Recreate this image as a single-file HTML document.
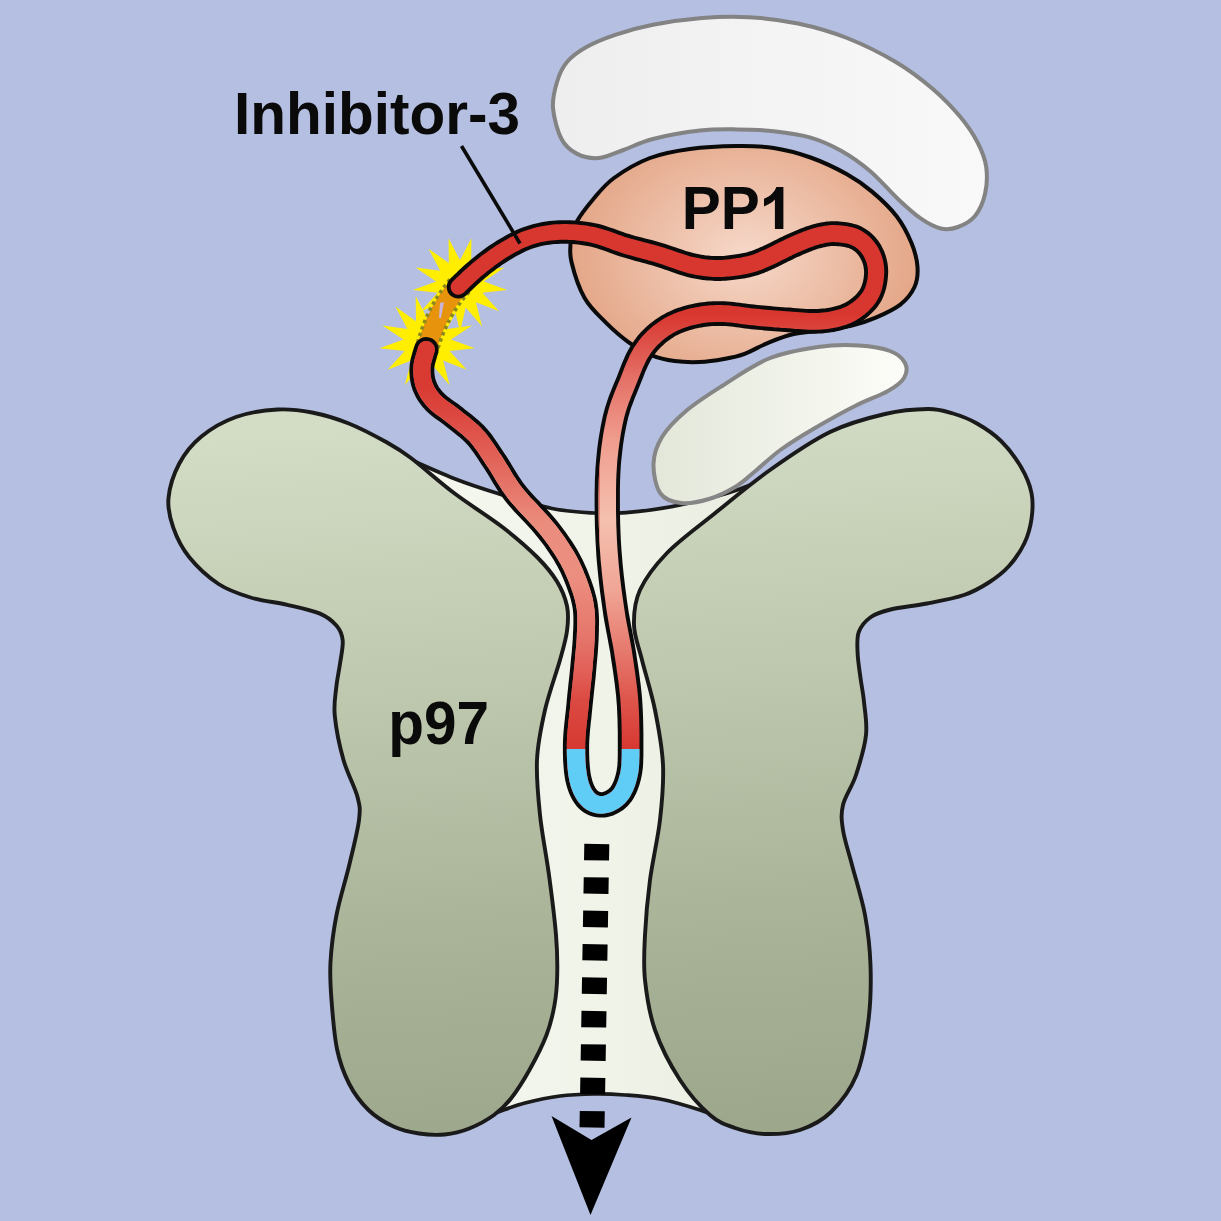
<!DOCTYPE html>
<html><head><meta charset="utf-8"><title>Inhibitor-3 PP1 p97</title>
<style>
html,body{margin:0;padding:0;background:#b4bfe1;}
body{width:1221px;height:1221px;overflow:hidden;}
svg{display:block;}
text{font-family:"Liberation Sans",sans-serif;font-weight:bold;fill:#0a0a0a;}
</style></head><body>
<svg width="1221" height="1221" viewBox="0 0 1221 1221">
<defs>
<linearGradient id="gGreen" gradientUnits="userSpaceOnUse" x1="590" y1="408" x2="640" y2="1136">
<stop offset="0" stop-color="#d3dcc5"/><stop offset="0.337" stop-color="#c0cab0"/><stop offset="0.732" stop-color="#a8b297"/><stop offset="1" stop-color="#9da78c"/></linearGradient>
<linearGradient id="gCream" gradientUnits="userSpaceOnUse" x1="400" y1="0" x2="820" y2="0">
<stop offset="0" stop-color="#f6f8f0"/><stop offset="0.5" stop-color="#eff3e8"/><stop offset="1" stop-color="#e8ecdf"/></linearGradient>
<linearGradient id="gCres" gradientUnits="userSpaceOnUse" x1="550" y1="0" x2="990" y2="0">
<stop offset="0" stop-color="#eeeeee"/><stop offset="1" stop-color="#f9f9f9"/></linearGradient>
<linearGradient id="gLow" gradientUnits="userSpaceOnUse" x1="655" y1="0" x2="905" y2="0">
<stop offset="0" stop-color="#e3e7d9"/><stop offset="1" stop-color="#fcfdf8"/></linearGradient>
<radialGradient id="gPP1" gradientUnits="userSpaceOnUse" cx="745" cy="255" r="175" gradientTransform="translate(745 255) scale(1 0.8) translate(-745 -255)">
<stop offset="0" stop-color="#f6d8c9"/><stop offset="1" stop-color="#e4a687"/></radialGradient>
<linearGradient id="gTube" gradientUnits="userSpaceOnUse" x1="0" y1="315" x2="0" y2="745">
<stop offset="0" stop-color="#d8372f"/>
<stop offset="0.049" stop-color="#dc4a42"/>
<stop offset="0.151" stop-color="#e57268"/>
<stop offset="0.291" stop-color="#ef9d8e"/>
<stop offset="0.477" stop-color="#f5c0af"/>
<stop offset="0.640" stop-color="#f0a595"/>
<stop offset="0.779" stop-color="#e67a6e"/>
<stop offset="0.895" stop-color="#de554c"/>
<stop offset="1" stop-color="#d73a33"/></linearGradient>
<linearGradient id="gTubeL" gradientUnits="userSpaceOnUse" x1="0" y1="385" x2="0" y2="745">
<stop offset="0" stop-color="#d93a32"/>
<stop offset="0.083" stop-color="#dc4840"/>
<stop offset="0.236" stop-color="#e36a5f"/>
<stop offset="0.389" stop-color="#eb8d7e"/>
<stop offset="0.528" stop-color="#ec8f80"/>
<stop offset="0.708" stop-color="#e5746a"/>
<stop offset="0.819" stop-color="#e05a52"/>
<stop offset="0.875" stop-color="#db4a42"/>
<stop offset="1" stop-color="#d63a32"/></linearGradient>
<clipPath id="cBlue"><rect x="540" y="749" width="130" height="90"/></clipPath>
<clipPath id="cLeft"><polygon points="380,330 600,330 600,560 598,808 540,830 380,600"/></clipPath>
</defs>
<rect width="1221" height="1221" fill="#b4bfe1"/>
<!-- crescent -->
<path d="M553.0,108.0 C552.2,98.5 554.7,89.7 557.0,82.0 C559.3,74.3 562.1,67.8 567.0,62.0 C571.9,56.2 578.3,51.6 586.5,47.0 C594.7,42.4 604.9,38.3 616.0,34.6 C627.1,30.9 638.6,27.6 652.9,24.8 C667.2,22.0 686.0,19.3 702.0,18.0 C718.0,16.7 733.0,16.3 749.0,17.2 C765.0,18.1 781.7,20.0 798.0,23.5 C814.3,27.0 830.6,31.5 847.0,38.0 C863.4,44.5 882.2,53.9 896.6,62.5 C911.0,71.1 922.8,80.4 933.4,89.5 C944.0,98.6 953.0,108.2 960.4,117.0 C967.8,125.8 973.3,134.2 977.6,142.5 C981.9,150.8 985.0,158.4 986.2,167.0 C987.4,175.6 986.9,185.8 985.0,194.0 C983.1,202.2 979.5,210.5 975.0,216.0 C970.5,221.5 963.7,224.9 958.0,227.0 C952.3,229.1 947.0,229.9 940.8,228.5 C934.6,227.1 927.9,223.4 921.0,218.7 C914.1,214.0 908.0,208.4 899.5,200.5 C891.0,192.6 879.7,179.2 870.0,171.0 C860.3,162.8 851.4,156.6 841.5,151.0 C831.6,145.4 821.9,140.9 810.6,137.6 C799.3,134.3 786.0,132.6 773.7,131.2 C761.4,129.8 749.2,129.5 736.9,129.4 C724.6,129.3 714.0,129.0 700.0,130.6 C686.0,132.2 665.7,135.8 652.9,139.0 C640.1,142.2 632.4,146.8 623.4,150.0 C614.4,153.2 606.6,157.4 598.8,158.0 C591.0,158.6 582.9,156.8 576.7,153.6 C570.5,150.4 565.5,146.6 561.5,139.0 C557.5,131.4 553.8,117.5 553.0,108.0Z" fill="url(#gCres)" stroke="#838383" stroke-width="4" stroke-linejoin="round"/>
<!-- PP1 -->
<path d="M571.5,262.0 C569.2,252.3 570.0,246.8 571.0,240.0 C572.0,233.2 573.6,227.7 577.2,221.0 C580.8,214.3 586.7,206.9 592.8,199.7 C598.9,192.5 604.5,184.9 614.0,178.0 C623.5,171.1 637.3,162.8 650.0,158.0 C662.7,153.2 675.5,151.0 690.0,149.0 C704.5,147.0 722.9,146.2 736.9,146.0 C750.9,145.8 761.4,146.1 773.7,148.0 C786.0,149.9 798.3,153.1 810.6,157.5 C822.9,161.9 837.2,168.8 847.4,174.5 C857.6,180.2 863.8,184.7 872.0,191.6 C880.2,198.5 890.0,207.6 896.6,216.2 C903.2,224.8 908.0,234.5 911.5,243.0 C915.0,251.5 917.0,259.7 917.5,267.0 C918.0,274.3 917.4,280.7 914.5,287.0 C911.6,293.3 906.8,299.5 900.3,304.6 C893.8,309.7 883.9,314.1 875.7,317.7 C867.5,321.2 860.5,323.7 851.0,325.9 C841.5,328.1 827.9,329.4 818.4,330.8 C808.9,332.2 802.0,332.1 793.8,334.0 C785.6,335.9 777.4,339.0 769.2,342.3 C761.0,345.6 752.2,351.0 744.6,353.8 C737.0,356.6 731.5,357.6 723.9,359.0 C716.3,360.4 707.5,361.7 699.3,362.0 C691.1,362.3 682.6,362.1 674.7,361.0 C666.8,359.9 659.4,358.5 651.8,355.4 C644.1,352.3 636.4,347.8 628.8,342.3 C621.1,336.8 613.3,330.0 605.9,322.6 C598.5,315.2 590.3,308.1 584.6,298.0 C578.9,287.9 573.8,271.7 571.5,262.0Z" fill="url(#gPP1)" stroke="#0a0a0a" stroke-width="4"/>
<!-- cream channel -->
<path d="M400.0,455.0 C409.0,458.9 437.7,472.1 454.0,478.5 C470.3,484.9 481.7,488.5 498.0,493.5 C514.3,498.5 536.0,505.2 552.0,508.5 C568.0,511.8 581.7,512.3 594.0,513.0 C606.3,513.7 611.7,514.0 626.0,512.7 C640.3,511.4 661.0,508.9 680.0,505.0 C699.0,501.1 721.7,495.5 740.0,489.0 C758.3,482.5 777.5,472.8 790.0,466.0 C802.5,459.2 810.8,451.0 815.0,448.0 L740.0,1125.0 C733.3,1122.5 713.3,1114.3 700.0,1110.0 C686.7,1105.7 672.5,1101.5 660.0,1099.0 C647.5,1096.5 635.8,1095.8 625.0,1095.0 C614.2,1094.2 605.8,1093.8 595.0,1094.0 C584.2,1094.2 571.7,1094.5 560.0,1096.0 C548.3,1097.5 535.8,1100.2 525.0,1103.0 C514.2,1105.8 505.8,1109.3 495.0,1113.0 C484.2,1116.7 465.8,1123.0 460.0,1125.0Z" fill="url(#gCream)" stroke="#1a1a1a" stroke-width="3.7"/>
<!-- lobes -->
<path d="M277.6,409.5 C290.3,408.8 300.1,410.2 312.0,412.5 C323.9,414.8 336.5,418.6 348.8,423.5 C361.1,428.4 375.4,436.1 385.7,441.8 C395.9,447.5 398.9,449.0 410.3,457.5 C421.7,466.0 438.6,481.3 454.0,493.0 C469.4,504.7 489.2,516.8 503.0,527.5 C516.8,538.2 528.0,548.0 537.0,557.0 C546.0,566.0 552.0,573.3 557.0,581.5 C562.0,589.7 565.3,597.8 567.0,606.0 C568.7,614.2 568.2,622.0 567.0,631.0 C565.8,640.0 563.7,646.8 560.0,660.0 C556.3,673.2 548.8,693.3 545.0,710.0 C541.2,726.7 537.8,742.5 537.0,760.0 C536.2,777.5 538.0,795.8 540.0,815.0 C542.0,834.2 546.3,855.0 549.0,875.0 C551.7,895.0 554.6,918.3 556.0,935.0 C557.4,951.7 557.5,963.3 557.2,975.0 C557.0,986.7 556.3,995.0 554.5,1005.0 C552.7,1015.0 550.6,1024.3 546.5,1035.0 C542.4,1045.7 535.9,1058.4 530.0,1069.0 C524.1,1079.6 517.0,1090.8 511.0,1098.5 C505.0,1106.2 500.9,1110.0 494.0,1115.0 C487.1,1120.0 477.5,1125.2 469.3,1128.5 C461.1,1131.8 453.1,1133.7 444.7,1134.5 C436.3,1135.3 427.5,1134.8 419.0,1133.5 C410.5,1132.2 401.9,1130.4 393.5,1126.5 C385.1,1122.6 375.9,1117.2 368.5,1110.0 C361.1,1102.8 354.2,1093.7 349.0,1083.5 C343.8,1073.3 339.9,1062.9 337.0,1049.0 C334.1,1035.1 332.6,1014.5 331.5,1000.0 C330.4,985.5 329.7,976.2 330.5,962.0 C331.3,947.8 333.3,931.3 336.5,915.0 C339.7,898.7 345.8,879.8 349.5,864.0 C353.2,848.2 357.7,831.2 359.0,820.0 C360.3,808.8 360.1,807.0 357.5,797.0 C354.9,787.0 347.3,773.5 343.5,760.0 C339.7,746.5 336.0,728.0 334.8,716.0 C333.6,704.0 335.3,696.9 336.2,688.0 C337.1,679.1 339.1,670.5 340.2,662.6 C341.3,654.7 343.3,646.5 342.7,640.4 C342.1,634.2 340.5,630.2 336.6,625.7 C332.7,621.2 327.6,616.9 319.4,613.4 C311.2,609.9 298.9,607.4 287.4,604.8 C275.9,602.1 262.1,601.0 250.6,597.5 C239.1,594.0 228.8,590.8 218.6,584.0 C208.3,577.2 196.7,566.4 189.1,557.0 C181.5,547.6 176.6,537.2 173.2,527.4 C169.8,517.6 167.5,508.6 168.5,498.0 C169.5,487.4 173.8,473.8 179.3,463.5 C184.8,453.2 192.0,444.2 201.4,436.5 C210.8,428.8 223.3,421.5 236.0,417.0 C248.7,412.5 264.9,410.2 277.6,409.5Z" fill="url(#gGreen)" stroke="#1a1a1a" stroke-width="3.9"/>
<path d="M928.0,409.0 C939.3,408.9 944.8,411.1 953.0,413.5 C961.2,415.9 969.0,418.9 977.0,423.5 C985.0,428.1 993.7,433.8 1001.0,441.0 C1008.3,448.2 1015.9,458.3 1021.0,467.0 C1026.1,475.7 1029.8,484.3 1031.5,493.0 C1033.2,501.7 1032.7,510.7 1031.5,519.0 C1030.3,527.3 1028.2,535.2 1024.5,543.0 C1020.8,550.8 1015.0,559.4 1009.0,566.0 C1003.0,572.6 996.3,577.7 988.8,582.5 C981.3,587.3 974.3,591.5 964.0,595.0 C953.7,598.5 939.2,601.1 927.0,603.5 C914.8,605.9 900.0,607.2 890.6,609.5 C881.2,611.8 876.2,613.2 870.9,617.0 C865.6,620.8 861.0,626.0 858.8,632.0 C856.6,638.0 857.3,645.3 857.6,653.0 C857.9,660.7 859.4,669.8 860.5,678.0 C861.6,686.2 863.1,692.5 864.0,702.0 C864.9,711.5 867.3,722.8 866.0,735.0 C864.7,747.2 859.8,763.3 856.0,775.0 C852.2,786.7 845.2,795.8 843.0,805.0 C840.8,814.2 841.5,820.0 843.0,830.0 C844.5,840.0 848.3,850.8 852.0,865.0 C855.7,879.2 861.9,898.3 865.0,915.0 C868.1,931.7 869.9,947.5 870.5,965.0 C871.1,982.5 870.8,1001.7 868.5,1020.0 C866.2,1038.3 862.8,1059.7 856.5,1075.0 C850.2,1090.3 840.4,1102.8 831.0,1112.0 C821.6,1121.2 811.0,1126.3 800.0,1130.0 C789.0,1133.7 775.8,1134.3 765.0,1134.0 C754.2,1133.7 744.2,1131.2 735.0,1128.0 C725.8,1124.8 719.2,1123.0 710.0,1115.0 C700.8,1107.0 689.2,1094.2 680.0,1080.0 C670.8,1065.8 660.8,1046.7 655.0,1030.0 C649.2,1013.3 646.7,995.8 645.0,980.0 C643.3,964.2 644.2,951.7 645.0,935.0 C645.8,918.3 647.5,899.2 650.0,880.0 C652.5,860.8 657.8,839.2 660.0,820.0 C662.2,800.8 663.8,783.3 663.0,765.0 C662.2,746.7 658.5,727.5 655.0,710.0 C651.5,692.5 645.5,674.2 642.0,660.0 C638.5,645.8 634.3,636.7 634.0,625.0 C633.7,613.3 634.5,602.0 640.0,590.0 C645.5,578.0 654.7,565.7 667.0,553.0 C679.3,540.3 696.8,527.8 714.0,514.0 C731.2,500.2 750.7,483.7 770.0,470.0 C789.3,456.3 810.8,441.3 830.0,432.0 C849.2,422.7 868.7,417.8 885.0,414.0 C901.3,410.2 916.7,409.1 928.0,409.0Z" fill="url(#gGreen)" stroke="#1a1a1a" stroke-width="3.9"/>
<!-- lower grey -->
<path d="M653.5,464.0 C653.8,454.6 656.6,445.8 662.0,437.0 C667.4,428.2 676.0,419.5 686.0,411.0 C696.0,402.5 708.2,394.8 722.0,386.0 C735.8,377.2 753.0,365.0 769.0,358.5 C785.0,352.0 803.0,349.2 818.0,347.0 C833.0,344.8 847.0,344.8 859.0,345.5 C871.0,346.2 882.3,348.1 890.0,351.0 C897.7,353.9 902.7,358.5 905.0,363.0 C907.3,367.5 906.8,373.3 904.0,378.0 C901.2,382.7 896.2,386.3 888.0,391.0 C879.8,395.7 867.2,399.8 855.0,406.0 C842.8,412.2 827.3,420.8 815.0,428.0 C802.7,435.2 790.8,442.4 781.0,449.5 C771.2,456.6 763.5,464.3 756.0,470.5 C748.5,476.7 743.8,481.8 736.0,486.5 C728.2,491.2 718.2,496.2 709.0,499.0 C699.8,501.8 689.1,503.9 681.0,503.0 C672.9,502.1 665.1,500.0 660.5,493.5 C655.9,487.0 653.2,473.4 653.5,464.0Z" fill="url(#gLow)" stroke="#868686" stroke-width="4"/>
<!-- stars -->
<polygon points="471.4,238.2 471.2,263.0 491.5,248.7 479.8,270.7 504.4,267.5 483.8,281.4 507.2,290.0 482.4,292.8 499.1,311.3 475.9,302.3 482.1,326.4 465.7,307.6 460.0,331.8 454.3,307.6 437.9,326.4 444.1,302.3 420.9,311.3 437.6,292.8 412.8,290.0 436.2,281.4 415.6,267.5 440.2,270.7 428.5,248.7 448.8,263.0 448.6,238.2 460.0,260.3" fill="#ffee00"/>
<polygon points="438.7,295.9 438.4,321.2 459.0,306.6 447.0,328.9 472.1,325.5 451.0,339.6 474.8,348.3 449.6,351.0 466.7,369.8 443.1,360.5 449.5,385.0 432.9,365.8 427.2,390.5 421.5,365.8 404.9,385.0 411.3,360.5 387.7,369.8 404.8,351.0 379.5,348.3 403.4,339.6 382.3,325.5 407.4,328.9 395.4,306.6 416.0,321.2 415.7,295.9 427.2,318.5" fill="#ffee00"/>
<!-- orange link -->
<path d="M459,286 Q436,312 426.5,350" fill="none" stroke="#e8930c" stroke-width="20"/>
<path d="M450,279.5 Q426,308 416.5,347" fill="none" stroke="#8c8820" stroke-width="3.6" stroke-dasharray="3.4,3.4"/>
<path d="M469,292 Q446.5,317 437,352" fill="none" stroke="#8c8820" stroke-width="3.6" stroke-dasharray="3.4,3.4"/>
<polygon points="440,303 444,302 441,318 439,318" fill="#c8b4d8"/>
<!-- tube -->
<path d="M466.2,295.5 L467.5,294.3 L469.0,292.9 L470.7,291.2 L472.5,289.4 L474.6,287.4 L476.7,285.4 L478.9,283.4 L481.1,281.4 L483.3,279.5 L485.3,277.8 L487.6,276.0 L489.8,274.1 L492.2,272.3 L494.6,270.5 L497.0,268.6 L499.4,266.9 L501.8,265.1 L504.3,263.5 L506.7,261.9 L509.0,260.4 L511.5,258.9 L514.0,257.4 L516.5,256.0 L519.0,254.7 L521.5,253.4 L523.9,252.2 L526.3,251.0 L528.8,250.0 L531.2,249.1 L533.6,248.2 L536.1,247.5 L538.7,246.8 L541.3,246.1 L544.0,245.6 L546.6,245.1 L549.3,244.7 L552.1,244.3 L554.8,244.1 L557.6,243.9 L560.4,243.7 L563.3,243.7 L566.2,243.7 L569.2,243.8 L572.2,244.0 L575.2,244.2 L578.2,244.5 L581.3,244.9 L584.3,245.4 L587.4,245.9 L590.4,246.5 L593.1,247.2 L596.0,248.0 L598.9,248.9 L602.0,250.0 L605.1,251.1 L608.4,252.3 L611.7,253.5 L615.1,254.8 L618.6,256.0 L622.1,257.1 L625.6,258.1 L629.0,259.1 L632.3,260.0 L635.6,260.9 L638.9,261.8 L642.2,262.7 L645.4,263.5 L648.6,264.4 L651.8,265.3 L654.9,266.2 L658.0,267.2 L661.2,268.3 L664.5,269.4 L667.9,270.6 L671.2,271.8 L674.7,273.0 L678.1,274.2 L681.5,275.3 L684.8,276.3 L688.2,277.2 L691.3,277.9 L694.2,278.5 L697.1,279.0 L699.9,279.5 L702.6,279.9 L705.3,280.2 L707.8,280.4 L710.4,280.6 L712.8,280.8 L715.2,280.9 L717.9,281.0 L720.5,280.9 L723.0,280.8 L725.4,280.7 L727.8,280.5 L730.0,280.3 L732.2,280.0 L734.2,279.8 L736.2,279.5 L738.0,279.3 L739.9,279.0 L741.8,278.8 L743.6,278.5 L745.5,278.2 L747.3,277.8 L749.1,277.5 L750.9,277.0 L752.7,276.6 L754.5,276.1 L756.4,275.6 L758.4,274.9 L760.3,274.3 L762.2,273.6 L764.0,272.9 L765.8,272.1 L767.6,271.4 L769.3,270.6 L771.0,269.9 L772.7,269.1 L774.3,268.4 L776.1,267.5 L777.9,266.7 L779.7,265.8 L781.4,265.0 L783.1,264.1 L784.7,263.3 L786.3,262.4 L787.9,261.6 L789.4,260.9 L790.9,260.2 L792.6,259.4 L794.2,258.6 L795.8,257.8 L797.4,257.1 L799.0,256.4 L800.6,255.7 L802.1,255.0 L803.6,254.3 L805.1,253.7 L806.6,253.1 L808.2,252.4 L809.8,251.8 L811.4,251.2 L812.9,250.6 L814.4,250.0 L815.9,249.5 L817.3,249.0 L818.7,248.6 L820.0,248.2 L821.3,247.9 L822.9,247.5 L824.3,247.2 L825.7,246.9 L827.0,246.6 L828.3,246.4 L829.5,246.2 L830.7,246.1 L831.9,246.0 L833.1,246.0 L834.4,246.0 L836.0,246.1 L837.6,246.2 L839.4,246.3 L841.1,246.5 L842.9,246.8 L844.6,247.1 L846.1,247.4 L847.5,247.8 L848.8,248.1 L849.7,248.5 L850.6,248.9 L851.5,249.3 L852.4,249.8 L853.3,250.4 L854.1,251.0 L854.9,251.6 L855.7,252.3 L856.5,253.1 L857.3,253.9 L858.0,254.8 L858.6,255.5 L859.2,256.4 L859.8,257.3 L860.4,258.4 L861.0,259.4 L861.5,260.5 L862.0,261.7 L862.5,262.8 L862.8,264.0 L863.2,265.1 L863.4,266.1 L863.6,267.2 L863.8,268.3 L863.9,269.4 L864.0,270.6 L864.1,271.8 L864.1,273.1 L864.0,274.3 L863.9,275.6 L863.8,276.9 L863.6,278.2 L863.4,279.6 L863.1,280.9 L862.8,282.2 L862.4,283.5 L862.0,284.7 L861.6,285.9 L861.2,287.0 L860.7,288.0 L860.2,288.9 L859.7,289.9 L859.0,290.8 L858.3,291.8 L857.5,292.8 L856.7,293.7 L855.8,294.7 L854.8,295.7 L853.8,296.6 L852.8,297.5 L851.7,298.3 L850.5,299.3 L849.4,300.1 L848.2,300.9 L847.1,301.6 L845.9,302.3 L844.7,303.0 L843.4,303.6 L842.1,304.1 L840.7,304.7 L839.2,305.2 L837.4,305.8 L835.5,306.3 L833.6,306.8 L831.6,307.2 L829.5,307.7 L827.3,308.0 L825.0,308.4 L822.7,308.6 L820.3,308.8 L817.8,309.0 L815.3,309.1 L812.5,309.1 L809.6,309.0 L806.5,308.9 L803.3,308.7 L800.0,308.4 L796.6,308.2 L793.2,307.9 L789.8,307.6 L786.4,307.4 L783.2,307.2 L779.9,306.9 L776.6,306.7 L773.3,306.4 L770.0,306.1 L766.7,305.8 L763.5,305.5 L760.3,305.2 L757.1,304.9 L754.0,304.6 L751.2,304.3 L748.3,304.0 L745.4,303.6 L742.5,303.2 L739.5,302.8 L736.5,302.4 L733.5,302.0 L730.5,301.7 L727.4,301.4 L724.3,301.3 L721.5,301.2 L718.7,301.2 L716.0,301.2 L713.3,301.3 L710.6,301.4 L707.9,301.6 L705.2,301.9 L702.5,302.2 L699.8,302.6 L697.1,303.0 L694.4,303.6 L691.6,304.2 L688.8,304.8 L686.0,305.5 L683.2,306.3 L680.4,307.2 L677.6,308.1 L674.9,309.1 L672.2,310.2 L669.5,311.4 L667.0,312.6 L664.5,313.9 L662.0,315.3 L659.7,316.7 L657.4,318.2 L655.1,319.8 L652.9,321.4 L650.8,323.0 L648.7,324.8 L646.7,326.5 L644.8,328.3 L642.9,330.2 L641.0,332.1 L639.3,334.1 L637.5,336.1 L635.9,338.2 L634.2,340.4 L632.7,342.7 L631.1,345.0 L629.6,347.5 L628.1,350.2 L626.7,352.8 L625.4,355.6 L624.2,358.3 L623.0,361.1 L621.8,363.8 L620.7,366.7 L619.6,369.5 L618.4,372.5 L617.3,375.4 L616.1,378.4 L614.8,381.5 L613.4,384.8 L612.0,388.2 L610.6,391.8 L609.1,395.5 L607.7,399.4 L606.4,403.4 L605.1,407.6 L603.9,412.0 L602.8,416.3 L601.9,420.7 L600.9,425.2 L600.1,429.9 L599.3,434.6 L598.5,439.3 L597.8,444.2 L597.2,449.0 L596.7,453.9 L596.2,458.9 L595.8,463.9 L595.4,469.0 L595.2,474.1 L594.9,479.2 L594.8,484.4 L594.7,489.6 L594.6,494.8 L594.6,499.9 L594.6,505.0 L594.7,510.1 L594.7,515.2 L594.8,520.3 L594.9,525.4 L595.1,530.5 L595.3,535.6 L595.5,540.6 L595.8,545.7 L596.1,550.8 L596.4,555.9 L596.8,561.0 L597.3,566.2 L597.8,571.4 L598.3,576.5 L598.9,581.7 L599.5,586.9 L600.1,592.0 L600.8,597.1 L601.5,602.1 L602.2,607.0 L602.9,611.9 L603.6,616.7 L604.4,621.5 L605.3,626.2 L606.1,630.7 L607.0,635.2 L607.8,639.6 L608.6,644.0 L609.4,648.3 L610.2,652.6 L610.8,656.9 L611.5,661.4 L612.2,665.9 L612.9,670.4 L613.5,674.8 L614.1,679.2 L614.7,683.6 L615.2,688.0 L615.7,692.3 L616.2,696.7 L616.5,701.0 L616.9,705.4 L617.1,709.9 L617.3,714.5 L617.5,719.2 L617.6,723.8 L617.7,728.4 L617.8,732.8 L617.8,737.1 L617.8,741.1 L617.8,744.9 L617.8,748.6 L617.8,751.9 L617.8,755.0 L617.7,757.9 L617.7,760.5 L617.5,762.9 L617.4,765.2 L617.1,767.4 L616.8,769.4 L616.5,771.4 L616.0,773.5 L615.5,775.6 L614.9,777.5 L614.3,779.4 L613.6,781.2 L612.9,782.8 L612.2,784.2 L611.5,785.5 L610.8,786.5 L610.2,787.4 L609.6,788.0 L608.8,788.7 L608.0,789.4 L607.0,790.1 L606.0,790.7 L605.0,791.2 L604.1,791.6 L603.2,791.9 L602.5,792.1 L602.0,792.2 L601.6,792.2 L601.1,792.2 L600.6,792.1 L600.0,792.0 L599.5,791.8 L598.9,791.5 L598.4,791.3 L598.0,790.9 L597.5,790.6 L597.2,790.2 L596.6,789.6 L596.0,788.8 L595.4,787.9 L594.8,786.8 L594.1,785.5 L593.5,784.1 L592.9,782.5 L592.3,780.7 L591.8,778.8 L591.3,776.7 L590.8,774.4 L590.4,771.8 L590.1,768.9 L589.8,765.9 L589.5,762.6 L589.3,759.3 L589.2,755.8 L589.1,752.3 L589.1,748.7 L589.1,745.2 L589.2,741.7 L589.4,738.1 L589.7,734.4 L590.0,730.5 L590.4,726.5 L590.8,722.5 L591.3,718.4 L591.7,714.3 L592.1,710.3 L592.5,706.2 L592.9,702.5 L593.3,698.7 L593.7,694.9 L594.1,691.1 L594.5,687.4 L594.9,683.7 L595.3,680.0 L595.7,676.4 L596.0,672.8 L596.3,669.2 L596.6,665.8 L596.9,662.4 L597.2,659.1 L597.5,655.8 L597.8,652.5 L598.0,649.2 L598.2,646.0 L598.4,642.8 L598.6,639.6 L598.7,636.5 L598.8,633.5 L598.9,630.6 L598.9,627.7 L599.0,624.8 L599.0,621.8 L599.0,618.9 L598.9,615.9 L598.7,612.9 L598.5,609.9 L598.1,606.9 L597.7,603.9 L597.2,601.1 L596.6,598.3 L595.9,595.5 L595.2,592.9 L594.5,590.2 L593.7,587.6 L592.8,584.9 L591.9,582.3 L590.9,579.6 L589.9,577.0 L588.9,574.2 L587.8,571.4 L586.6,568.6 L585.3,565.7 L584.0,562.7 L582.6,559.8 L581.0,556.7 L579.4,553.7 L577.7,550.6 L575.9,547.6 L574.0,544.6 L572.1,541.5 L570.0,538.5 L567.9,535.4 L565.7,532.3 L563.4,529.2 L561.0,526.0 L558.5,522.7 L555.9,519.4 L552.9,515.9 L549.7,512.3 L546.4,508.7 L543.0,505.2 L539.7,501.6 L536.4,498.2 L533.2,494.8 L530.2,491.4 L527.4,488.2 L525.0,485.2 L522.7,482.2 L520.6,479.1 L518.5,476.0 L516.5,472.8 L514.5,469.6 L512.5,466.3 L510.6,463.1 L508.6,459.8 L506.6,456.6 L504.5,453.4 L502.7,450.7 L500.9,448.0 L499.2,445.4 L497.4,442.8 L495.7,440.3 L493.9,437.7 L492.1,435.1 L490.1,432.6 L488.0,430.1 L485.8,427.5 L483.5,425.0 L481.1,422.7 L478.7,420.5 L476.2,418.4 L473.9,416.4 L471.5,414.6 L469.2,412.8 L467.0,411.0 L464.9,409.4 L463.0,407.8 L460.6,405.9 L458.2,404.1 L455.9,402.5 L453.7,400.9 L451.6,399.4 L449.7,398.0 L447.9,396.7 L446.4,395.5 L445.0,394.3 L444.0,393.3 L442.8,392.0 L441.7,390.8 L440.8,389.6 L439.9,388.5 L439.1,387.4 L438.4,386.2 L437.8,385.1 L437.2,384.0 L436.7,382.8 L436.2,381.6 L435.8,380.4 L435.4,379.2 L435.1,378.0 L434.8,376.6 L434.6,375.2 L434.5,373.8 L434.3,372.4 L434.3,371.0 L434.3,369.5 L434.3,368.1 L434.4,367.2 L434.6,365.9 L434.9,364.3 L435.4,362.6 L435.9,360.8 L436.4,359.0 L436.9,357.3 L437.4,355.6 L437.9,354.1 L438.3,352.4 L438.7,349.2 L438.2,346.0 L436.9,343.1 L434.9,340.5 L432.3,338.6 L429.2,337.5 L426.0,337.1 L422.8,337.6 L419.9,338.9 L417.3,340.9 L415.4,343.5 L414.3,346.6 L414.1,347.1 L413.7,348.3 L413.2,349.9 L412.6,351.8 L412.0,353.9 L411.4,356.2 L410.7,358.7 L410.2,361.3 L409.8,364.0 L409.5,366.9 L409.4,369.2 L409.4,371.5 L409.5,373.8 L409.7,376.1 L409.9,378.5 L410.3,380.9 L410.7,383.3 L411.3,385.7 L412.0,388.0 L412.8,390.4 L413.7,392.6 L414.7,394.8 L415.8,396.9 L416.9,399.0 L418.2,401.0 L419.6,403.0 L421.1,405.0 L422.6,406.9 L424.3,408.8 L426.0,410.7 L428.2,412.8 L430.4,414.7 L432.6,416.5 L434.8,418.2 L437.0,419.8 L439.2,421.3 L441.3,422.8 L443.3,424.3 L445.2,425.8 L447.0,427.2 L449.3,429.0 L451.5,430.8 L453.7,432.5 L455.8,434.2 L458.0,435.9 L460.0,437.6 L461.9,439.3 L463.8,441.0 L465.5,442.7 L467.2,444.5 L468.8,446.3 L470.3,448.2 L471.8,450.2 L473.3,452.3 L474.9,454.5 L476.4,456.8 L478.1,459.3 L479.8,461.9 L481.6,464.7 L483.5,467.6 L485.3,470.2 L487.0,473.1 L488.9,476.1 L490.8,479.3 L492.8,482.7 L495.0,486.2 L497.2,489.7 L499.6,493.4 L502.2,497.1 L505.0,500.8 L508.0,504.5 L511.3,508.2 L514.6,511.9 L518.0,515.5 L521.3,519.1 L524.7,522.6 L527.9,526.0 L530.9,529.3 L533.7,532.4 L536.1,535.4 L538.6,538.4 L540.9,541.4 L543.1,544.3 L545.1,547.1 L547.1,549.9 L549.0,552.7 L550.8,555.4 L552.5,558.1 L554.2,560.7 L555.7,563.4 L557.2,565.9 L558.5,568.5 L559.8,571.0 L561.0,573.5 L562.1,576.0 L563.2,578.4 L564.2,580.9 L565.2,583.4 L566.2,585.9 L567.1,588.4 L567.9,590.8 L568.7,593.1 L569.5,595.3 L570.2,597.5 L570.8,599.6 L571.3,601.7 L571.8,603.7 L572.2,605.8 L572.6,608.0 L572.9,610.1 L573.1,612.3 L573.3,614.5 L573.4,616.9 L573.4,619.2 L573.4,621.7 L573.4,624.3 L573.3,627.0 L573.2,629.7 L573.0,632.6 L572.9,635.5 L572.8,638.4 L572.6,641.2 L572.4,644.2 L572.1,647.2 L571.9,650.3 L571.6,653.5 L571.2,656.7 L570.9,660.0 L570.6,663.4 L570.3,666.8 L569.9,670.2 L569.6,673.7 L569.2,677.3 L568.8,680.9 L568.4,684.6 L568.0,688.4 L567.6,692.1 L567.2,696.0 L566.8,699.9 L566.5,703.8 L566.1,707.6 L565.7,711.5 L565.2,715.5 L564.8,719.6 L564.3,723.8 L563.9,728.0 L563.5,732.3 L563.2,736.5 L563.0,740.7 L562.9,744.8 L562.9,748.7 L562.9,752.7 L563.0,756.6 L563.1,760.5 L563.4,764.4 L563.7,768.2 L564.0,771.9 L564.5,775.5 L565.0,779.0 L565.7,782.3 L566.5,785.5 L567.4,788.5 L568.4,791.4 L569.5,794.2 L570.8,796.9 L572.1,799.5 L573.6,801.9 L575.2,804.2 L576.9,806.4 L578.8,808.4 L581.1,810.4 L583.4,812.2 L585.9,813.7 L588.5,814.9 L591.1,816.0 L593.8,816.8 L596.6,817.3 L599.4,817.6 L602.2,817.6 L605.0,817.4 L607.8,816.9 L610.5,816.3 L613.2,815.4 L615.7,814.3 L618.3,813.0 L620.7,811.5 L623.2,809.9 L625.5,808.0 L627.7,805.9 L629.8,803.6 L631.7,801.2 L633.3,798.7 L634.8,796.1 L636.1,793.5 L637.3,790.8 L638.3,788.0 L639.3,785.2 L640.1,782.4 L640.9,779.5 L641.5,776.6 L642.1,773.6 L642.5,770.5 L642.9,767.5 L643.1,764.5 L643.2,761.4 L643.3,758.4 L643.4,755.2 L643.4,752.0 L643.4,748.6 L643.4,745.1 L643.4,741.1 L643.4,737.0 L643.4,732.5 L643.3,727.9 L643.2,723.2 L643.1,718.4 L642.9,713.5 L642.7,708.6 L642.4,703.8 L642.1,699.0 L641.7,694.3 L641.2,689.7 L640.7,685.0 L640.1,680.4 L639.5,675.8 L638.9,671.2 L638.2,666.6 L637.5,662.1 L636.8,657.6 L636.2,653.1 L635.4,648.4 L634.6,643.8 L633.8,639.3 L632.9,634.8 L632.1,630.4 L631.2,626.0 L630.4,621.6 L629.6,617.1 L628.8,612.7 L628.1,608.1 L627.4,603.4 L626.7,598.6 L626.1,593.7 L625.4,588.7 L624.8,583.8 L624.2,578.8 L623.6,573.8 L623.1,568.8 L622.6,563.9 L622.2,559.0 L621.8,554.1 L621.4,549.2 L621.1,544.3 L620.8,539.4 L620.6,534.4 L620.4,529.5 L620.2,524.6 L620.1,519.7 L620.0,514.8 L619.9,509.9 L619.9,504.9 L619.9,499.9 L619.9,494.9 L619.9,489.9 L620.0,485.0 L620.1,480.0 L620.3,475.2 L620.5,470.4 L620.8,465.7 L621.2,461.1 L621.7,456.6 L622.2,452.0 L622.7,447.5 L623.3,443.0 L624.0,438.6 L624.7,434.2 L625.5,430.0 L626.3,425.9 L627.2,421.9 L628.1,418.0 L629.1,414.5 L630.1,411.0 L631.2,407.6 L632.5,404.2 L633.7,400.9 L635.0,397.6 L636.4,394.3 L637.7,391.0 L639.0,387.8 L640.3,384.6 L641.5,381.5 L642.7,378.6 L643.8,375.8 L644.8,373.1 L645.9,370.6 L646.9,368.3 L647.9,366.0 L648.9,363.9 L649.9,362.0 L651.0,360.1 L652.1,358.2 L653.2,356.5 L654.4,354.8 L655.5,353.3 L656.7,351.8 L657.9,350.3 L659.2,348.9 L660.5,347.6 L661.9,346.2 L663.3,344.9 L664.8,343.6 L666.3,342.3 L667.9,341.1 L669.5,339.9 L671.1,338.8 L672.8,337.7 L674.5,336.6 L676.3,335.6 L678.1,334.7 L679.9,333.8 L681.8,333.0 L683.7,332.2 L685.8,331.4 L688.0,330.7 L690.2,330.0 L692.4,329.4 L694.7,328.8 L697.0,328.3 L699.3,327.8 L701.5,327.4 L703.7,327.0 L705.8,326.7 L707.9,326.4 L710.0,326.2 L712.1,326.1 L714.2,325.9 L716.4,325.9 L718.7,325.9 L721.1,325.9 L723.5,325.9 L725.8,326.1 L728.2,326.2 L730.7,326.5 L733.4,326.8 L736.2,327.2 L739.0,327.6 L742.0,328.0 L745.1,328.4 L748.3,328.8 L751.6,329.2 L754.7,329.5 L757.9,329.8 L761.2,330.1 L764.5,330.4 L767.9,330.7 L771.3,331.0 L774.7,331.3 L778.0,331.5 L781.4,331.8 L784.8,332.0 L788.0,332.2 L791.3,332.5 L794.8,332.7 L798.2,333.0 L801.7,333.2 L805.2,333.4 L808.7,333.6 L812.2,333.7 L815.6,333.7 L819.0,333.6 L822.2,333.4 L825.2,333.1 L828.2,332.8 L831.2,332.3 L834.0,331.9 L836.7,331.3 L839.4,330.7 L842.0,330.0 L844.4,329.3 L846.8,328.6 L849.3,327.7 L851.6,326.8 L853.9,325.8 L856.0,324.7 L858.0,323.6 L860.0,322.4 L861.8,321.2 L863.6,320.0 L865.3,318.7 L866.9,317.5 L868.6,316.1 L870.2,314.6 L871.8,313.1 L873.3,311.5 L874.8,309.9 L876.3,308.2 L877.7,306.4 L879.0,304.6 L880.2,302.7 L881.4,300.7 L882.5,298.6 L883.4,296.5 L884.2,294.3 L885.0,292.2 L885.6,290.1 L886.2,288.0 L886.6,285.9 L887.0,283.9 L887.3,281.9 L887.6,279.9 L887.8,277.9 L888.0,275.8 L888.1,273.8 L888.2,271.7 L888.1,269.6 L888.0,267.5 L887.8,265.4 L887.5,263.2 L887.1,261.1 L886.6,258.9 L886.1,256.9 L885.4,254.8 L884.7,252.8 L883.9,250.8 L882.9,248.8 L881.9,246.8 L880.9,244.8 L879.7,242.9 L878.4,241.0 L877.0,239.2 L875.6,237.6 L874.2,236.1 L872.7,234.5 L871.1,233.0 L869.3,231.6 L867.5,230.2 L865.6,228.9 L863.5,227.7 L861.4,226.5 L859.1,225.5 L856.6,224.6 L854.1,223.9 L851.7,223.2 L849.2,222.7 L846.7,222.3 L844.3,221.9 L841.9,221.7 L839.6,221.4 L837.4,221.3 L835.2,221.2 L832.9,221.2 L830.7,221.2 L828.6,221.4 L826.5,221.6 L824.5,221.9 L822.6,222.2 L820.7,222.5 L818.9,222.9 L817.2,223.3 L815.5,223.7 L813.5,224.2 L811.6,224.8 L809.7,225.4 L807.8,226.0 L806.0,226.6 L804.2,227.3 L802.4,228.0 L800.7,228.6 L799.0,229.3 L797.4,229.9 L795.6,230.7 L793.8,231.4 L792.1,232.2 L790.3,233.0 L788.6,233.7 L786.9,234.5 L785.2,235.3 L783.6,236.1 L781.9,236.9 L780.3,237.6 L778.5,238.5 L776.7,239.4 L775.0,240.2 L773.4,241.1 L771.7,241.9 L770.1,242.7 L768.6,243.5 L767.0,244.2 L765.5,245.0 L764.1,245.6 L762.5,246.4 L760.8,247.1 L759.3,247.8 L757.7,248.4 L756.2,249.1 L754.7,249.7 L753.3,250.2 L751.9,250.8 L750.5,251.2 L749.2,251.6 L747.8,252.0 L746.5,252.4 L745.2,252.7 L743.8,253.0 L742.5,253.3 L741.1,253.6 L739.6,253.8 L738.1,254.0 L736.5,254.3 L734.8,254.5 L732.9,254.8 L731.0,255.0 L729.1,255.3 L727.2,255.5 L725.4,255.7 L723.5,255.9 L721.7,256.0 L719.8,256.1 L718.0,256.1 L716.2,256.1 L714.1,256.0 L712.0,255.9 L709.9,255.8 L707.8,255.6 L705.7,255.4 L703.5,255.1 L701.3,254.7 L699.0,254.3 L696.5,253.8 L694.0,253.2 L691.5,252.6 L688.7,251.8 L685.7,250.9 L682.6,249.8 L679.3,248.7 L675.9,247.5 L672.5,246.4 L669.0,245.2 L665.4,244.0 L661.9,243.0 L658.5,242.0 L655.1,241.0 L651.7,240.1 L648.4,239.3 L645.1,238.4 L641.8,237.6 L638.6,236.7 L635.4,235.9 L632.2,235.0 L629.1,234.1 L626.1,233.2 L623.0,232.1 L619.9,231.0 L616.6,229.8 L613.3,228.6 L609.9,227.4 L606.3,226.3 L602.7,225.1 L599.0,224.1 L595.2,223.3 L591.6,222.6 L588.1,222.0 L584.5,221.5 L580.9,221.0 L577.3,220.7 L573.7,220.4 L570.1,220.3 L566.6,220.2 L563.1,220.2 L559.6,220.3 L556.1,220.5 L552.7,220.7 L549.3,221.1 L546.0,221.5 L542.6,222.1 L539.3,222.7 L536.1,223.4 L532.8,224.3 L529.6,225.2 L526.4,226.2 L523.2,227.3 L520.0,228.5 L516.9,229.8 L513.9,231.2 L510.9,232.7 L508.0,234.2 L505.2,235.8 L502.4,237.4 L499.7,239.0 L497.0,240.6 L494.1,242.4 L491.3,244.2 L488.5,246.1 L485.8,248.1 L483.1,250.0 L480.5,252.0 L477.9,254.0 L475.4,256.0 L473.0,257.9 L470.7,259.8 L468.2,261.9 L465.7,264.1 L463.2,266.3 L460.9,268.5 L458.6,270.6 L456.5,272.7 L454.5,274.5 L452.8,276.2 L451.4,277.5 L450.4,278.5 L448.5,280.8 L447.2,283.6 L446.7,286.5 L447.0,289.6 L448.0,292.4 L449.8,294.9 L452.1,296.8 L454.9,298.1 L457.8,298.6 L460.9,298.3 L463.7,297.3Z" fill="#0a0a0a"/>
<path d="M463.5,292.7 L464.8,291.5 L466.2,290.1 L467.9,288.4 L469.8,286.6 L471.9,284.6 L474.1,282.6 L476.3,280.5 L478.5,278.5 L480.7,276.5 L482.9,274.8 L485.1,272.9 L487.4,271.1 L489.8,269.2 L492.2,267.4 L494.6,265.5 L497.1,263.7 L499.6,261.9 L502.1,260.2 L504.6,258.6 L507.0,257.1 L509.5,255.5 L512.1,254.1 L514.6,252.6 L517.2,251.2 L519.7,249.9 L522.2,248.6 L524.7,247.5 L527.3,246.4 L529.8,245.4 L532.4,244.5 L535.0,243.7 L537.7,243.0 L540.4,242.3 L543.2,241.8 L546.0,241.2 L548.8,240.8 L551.6,240.5 L554.5,240.2 L557.4,240.0 L560.3,239.8 L563.2,239.8 L566.3,239.8 L569.3,239.9 L572.4,240.1 L575.5,240.3 L578.7,240.7 L581.8,241.1 L584.9,241.5 L588.1,242.1 L591.2,242.7 L594.1,243.4 L597.1,244.2 L600.2,245.2 L603.3,246.3 L606.5,247.4 L609.7,248.6 L613.0,249.9 L616.4,251.1 L619.8,252.3 L623.3,253.4 L626.6,254.4 L630.0,255.3 L633.3,256.3 L636.6,257.2 L639.9,258.0 L643.2,258.9 L646.4,259.8 L649.7,260.7 L652.9,261.6 L656.0,262.5 L659.2,263.5 L662.4,264.6 L665.8,265.7 L669.1,266.9 L672.5,268.1 L675.9,269.3 L679.3,270.4 L682.6,271.5 L685.9,272.5 L689.1,273.4 L692.1,274.1 L695.0,274.7 L697.8,275.2 L700.5,275.6 L703.1,276.0 L705.7,276.3 L708.2,276.5 L710.6,276.7 L713.0,276.9 L715.4,277.0 L717.9,277.1 L720.4,277.0 L722.8,277.0 L725.1,276.8 L727.4,276.6 L729.6,276.4 L731.7,276.2 L733.7,275.9 L735.7,275.7 L737.5,275.4 L739.4,275.2 L741.2,274.9 L743.0,274.6 L744.8,274.3 L746.5,274.0 L748.3,273.6 L750.0,273.2 L751.7,272.8 L753.5,272.3 L755.3,271.8 L757.1,271.2 L759.0,270.6 L760.8,269.9 L762.5,269.2 L764.3,268.5 L766.0,267.8 L767.7,267.0 L769.4,266.3 L771.1,265.6 L772.7,264.8 L774.5,264.0 L776.2,263.2 L777.9,262.3 L779.6,261.5 L781.3,260.6 L782.9,259.8 L784.6,259.0 L786.1,258.2 L787.7,257.4 L789.3,256.6 L790.9,255.9 L792.5,255.1 L794.2,254.3 L795.8,253.6 L797.4,252.8 L799.0,252.1 L800.5,251.4 L802.1,250.7 L803.6,250.1 L805.2,249.4 L806.8,248.8 L808.4,248.1 L810.0,247.5 L811.6,246.9 L813.1,246.4 L814.6,245.8 L816.1,245.3 L817.6,244.9 L819.0,244.5 L820.4,244.1 L822.0,243.7 L823.5,243.4 L824.9,243.1 L826.3,242.8 L827.7,242.6 L829.0,242.4 L830.4,242.2 L831.7,242.1 L833.1,242.1 L834.5,242.1 L836.2,242.2 L837.9,242.3 L839.8,242.5 L841.6,242.7 L843.5,242.9 L845.3,243.3 L847.0,243.6 L848.6,244.0 L850.0,244.4 L851.2,244.9 L852.3,245.4 L853.4,245.9 L854.5,246.5 L855.5,247.2 L856.5,247.9 L857.5,248.7 L858.4,249.5 L859.3,250.4 L860.2,251.3 L861.0,252.3 L861.8,253.2 L862.5,254.2 L863.2,255.3 L863.9,256.5 L864.5,257.7 L865.1,259.0 L865.6,260.3 L866.1,261.5 L866.6,262.8 L866.9,264.1 L867.2,265.3 L867.5,266.5 L867.7,267.8 L867.8,269.1 L867.9,270.5 L868.0,271.8 L868.0,273.2 L867.9,274.6 L867.8,276.0 L867.7,277.4 L867.5,278.8 L867.2,280.3 L866.9,281.7 L866.6,283.2 L866.2,284.6 L865.8,285.9 L865.3,287.3 L864.8,288.5 L864.2,289.7 L863.6,290.8 L863.0,291.9 L862.2,293.0 L861.4,294.1 L860.5,295.2 L859.6,296.3 L858.6,297.4 L857.5,298.4 L856.4,299.5 L855.3,300.5 L854.1,301.4 L852.9,302.4 L851.6,303.3 L850.4,304.1 L849.1,304.9 L847.8,305.7 L846.5,306.4 L845.1,307.1 L843.6,307.7 L842.1,308.3 L840.4,308.9 L838.5,309.5 L836.6,310.1 L834.5,310.6 L832.4,311.1 L830.2,311.5 L827.9,311.9 L825.6,312.2 L823.1,312.5 L820.6,312.7 L818.0,312.9 L815.3,313.0 L812.5,313.0 L809.5,312.9 L806.3,312.7 L803.1,312.6 L799.7,312.3 L796.3,312.1 L792.9,311.8 L789.5,311.5 L786.2,311.3 L782.9,311.1 L779.6,310.8 L776.3,310.6 L773.0,310.3 L769.7,310.0 L766.4,309.7 L763.1,309.4 L759.9,309.1 L756.7,308.8 L753.6,308.5 L750.7,308.2 L747.8,307.8 L744.9,307.4 L741.9,307.0 L739.0,306.6 L736.0,306.2 L733.1,305.9 L730.1,305.5 L727.2,305.3 L724.2,305.2 L721.4,305.1 L718.7,305.1 L716.0,305.1 L713.4,305.2 L710.8,305.3 L708.2,305.5 L705.6,305.7 L703.0,306.1 L700.4,306.4 L697.8,306.9 L695.1,307.4 L692.4,308.0 L689.7,308.6 L687.0,309.3 L684.3,310.1 L681.6,310.9 L678.9,311.8 L676.3,312.8 L673.7,313.8 L671.1,314.9 L668.7,316.1 L666.3,317.3 L664.0,318.6 L661.7,320.0 L659.5,321.4 L657.4,322.9 L655.3,324.5 L653.2,326.1 L651.2,327.7 L649.3,329.4 L647.5,331.1 L645.7,332.9 L643.9,334.7 L642.2,336.6 L640.6,338.6 L639.0,340.6 L637.4,342.7 L635.9,344.9 L634.4,347.1 L633.0,349.5 L631.6,352.0 L630.2,354.6 L629.0,357.2 L627.8,359.9 L626.6,362.6 L625.5,365.3 L624.3,368.1 L623.2,371.0 L622.1,373.9 L620.9,376.9 L619.7,379.9 L618.4,383.0 L617.0,386.3 L615.6,389.7 L614.2,393.2 L612.8,396.9 L611.4,400.7 L610.1,404.6 L608.8,408.7 L607.7,412.9 L606.6,417.1 L605.7,421.5 L604.8,426.0 L603.9,430.5 L603.1,435.2 L602.4,439.9 L601.7,444.7 L601.1,449.5 L600.6,454.3 L600.1,459.2 L599.7,464.2 L599.3,469.2 L599.0,474.2 L598.8,479.4 L598.7,484.5 L598.6,489.6 L598.5,494.8 L598.5,499.9 L598.5,505.0 L598.6,510.1 L598.6,515.1 L598.7,520.2 L598.8,525.3 L599.0,530.3 L599.2,535.4 L599.4,540.4 L599.7,545.5 L600.0,550.6 L600.3,555.6 L600.7,560.7 L601.2,565.8 L601.7,571.0 L602.2,576.1 L602.8,581.3 L603.4,586.4 L604.0,591.5 L604.7,596.5 L605.4,601.5 L606.0,606.5 L606.7,611.3 L607.5,616.1 L608.3,620.8 L609.1,625.5 L609.9,630.0 L610.8,634.5 L611.6,638.9 L612.5,643.3 L613.3,647.6 L614.0,652.0 L614.7,656.3 L615.4,660.8 L616.1,665.3 L616.7,669.8 L617.4,674.3 L618.0,678.7 L618.6,683.1 L619.1,687.5 L619.6,691.9 L620.1,696.3 L620.4,700.7 L620.7,705.1 L621.0,709.7 L621.2,714.4 L621.4,719.0 L621.5,723.7 L621.6,728.3 L621.7,732.8 L621.7,737.1 L621.7,741.1 L621.7,745.0 L621.7,748.6 L621.7,751.9 L621.7,755.0 L621.6,757.9 L621.5,760.6 L621.4,763.2 L621.3,765.6 L621.0,767.8 L620.7,770.0 L620.3,772.2 L619.8,774.4 L619.2,776.6 L618.6,778.7 L617.9,780.7 L617.2,782.6 L616.4,784.4 L615.6,786.0 L614.8,787.5 L614.0,788.8 L613.2,789.9 L612.4,790.8 L611.4,791.7 L610.3,792.6 L609.1,793.4 L607.9,794.1 L606.7,794.7 L605.5,795.2 L604.3,795.6 L603.3,795.9 L602.5,796.1 L601.7,796.1 L600.8,796.1 L600.0,795.9 L599.1,795.7 L598.2,795.5 L597.4,795.1 L596.5,794.7 L595.8,794.2 L595.0,793.6 L594.4,793.0 L593.6,792.1 L592.9,791.1 L592.1,790.0 L591.4,788.7 L590.6,787.2 L589.9,785.6 L589.2,783.8 L588.6,781.9 L588.0,779.8 L587.5,777.5 L587.0,775.1 L586.6,772.3 L586.2,769.4 L585.9,766.2 L585.6,762.9 L585.4,759.5 L585.3,755.9 L585.2,752.3 L585.2,748.7 L585.2,745.1 L585.3,741.6 L585.5,737.9 L585.8,734.0 L586.1,730.1 L586.5,726.1 L586.9,722.0 L587.4,718.0 L587.8,713.9 L588.3,709.9 L588.7,705.9 L589.0,702.1 L589.4,698.3 L589.8,694.5 L590.2,690.7 L590.6,687.0 L591.0,683.3 L591.4,679.6 L591.8,676.0 L592.1,672.4 L592.5,668.8 L592.8,665.4 L593.0,662.1 L593.3,658.7 L593.6,655.4 L593.9,652.2 L594.1,648.9 L594.3,645.7 L594.5,642.6 L594.7,639.4 L594.8,636.3 L594.9,633.4 L595.0,630.5 L595.0,627.6 L595.1,624.7 L595.1,621.8 L595.1,618.9 L595.0,616.1 L594.8,613.2 L594.6,610.3 L594.2,607.4 L593.8,604.5 L593.3,601.8 L592.8,599.1 L592.2,596.5 L591.5,593.9 L590.7,591.3 L589.9,588.8 L589.1,586.2 L588.2,583.6 L587.3,581.0 L586.3,578.3 L585.2,575.6 L584.1,572.9 L583.0,570.1 L581.8,567.3 L580.5,564.4 L579.1,561.5 L577.6,558.6 L576.0,555.6 L574.3,552.6 L572.5,549.6 L570.7,546.7 L568.8,543.7 L566.8,540.7 L564.7,537.6 L562.5,534.6 L560.3,531.5 L557.9,528.3 L555.4,525.1 L552.8,521.9 L549.9,518.4 L546.8,514.9 L543.5,511.4 L540.2,507.9 L536.9,504.3 L533.6,500.8 L530.3,497.4 L527.3,494.0 L524.5,490.8 L521.9,487.6 L519.6,484.5 L517.3,481.3 L515.2,478.1 L513.1,474.9 L511.1,471.6 L509.2,468.3 L507.2,465.1 L505.3,461.9 L503.3,458.7 L501.3,455.6 L499.4,452.9 L497.6,450.2 L495.9,447.6 L494.2,445.0 L492.5,442.5 L490.7,439.9 L488.9,437.5 L487.0,435.0 L485.1,432.6 L482.9,430.2 L480.7,427.8 L478.4,425.5 L476.1,423.4 L473.7,421.4 L471.4,419.5 L469.1,417.6 L466.8,415.8 L464.6,414.1 L462.5,412.4 L460.5,410.8 L458.2,409.0 L455.9,407.3 L453.6,405.6 L451.4,404.1 L449.3,402.6 L447.4,401.2 L445.5,399.8 L443.9,398.5 L442.4,397.2 L441.2,396.0 L439.9,394.7 L438.7,393.3 L437.7,392.0 L436.7,390.8 L435.8,389.5 L435.1,388.2 L434.3,387.0 L433.7,385.7 L433.1,384.3 L432.5,383.0 L432.0,381.6 L431.6,380.2 L431.3,378.8 L431.0,377.3 L430.7,375.8 L430.6,374.2 L430.4,372.6 L430.4,371.0 L430.4,369.5 L430.4,367.9 L430.5,366.7 L430.8,365.2 L431.1,363.4 L431.6,361.6 L432.1,359.7 L432.7,357.9 L433.2,356.1 L433.7,354.5 L434.2,353.0 L434.6,351.5 L434.8,349.3 L434.5,347.1 L433.6,345.1 L432.2,343.4 L430.4,342.0 L428.3,341.2 L426.1,341.0 L423.9,341.3 L421.9,342.2 L420.2,343.6 L418.8,345.4 L418.0,347.5 L417.8,348.2 L417.5,349.4 L417.0,351.0 L416.4,352.9 L415.8,355.0 L415.1,357.2 L414.5,359.6 L414.0,362.0 L413.6,364.5 L413.4,367.1 L413.3,369.2 L413.3,371.4 L413.4,373.6 L413.5,375.8 L413.8,378.0 L414.1,380.2 L414.6,382.4 L415.1,384.7 L415.7,386.9 L416.5,389.0 L417.3,391.1 L418.2,393.1 L419.2,395.0 L420.3,397.0 L421.5,398.9 L422.8,400.8 L424.1,402.6 L425.6,404.4 L427.2,406.2 L428.8,408.0 L430.8,409.9 L432.9,411.7 L435.0,413.4 L437.1,415.0 L439.3,416.6 L441.4,418.1 L443.6,419.7 L445.6,421.2 L447.6,422.7 L449.5,424.2 L451.7,426.0 L453.9,427.7 L456.1,429.4 L458.3,431.2 L460.4,432.9 L462.5,434.6 L464.5,436.4 L466.5,438.2 L468.3,440.0 L470.1,441.8 L471.7,443.8 L473.4,445.8 L474.9,447.9 L476.5,450.0 L478.1,452.3 L479.7,454.7 L481.3,457.2 L483.0,459.8 L484.8,462.5 L486.7,465.4 L488.5,468.1 L490.4,471.0 L492.2,474.1 L494.2,477.3 L496.2,480.7 L498.3,484.1 L500.5,487.6 L502.9,491.2 L505.4,494.8 L508.1,498.4 L511.0,502.0 L514.2,505.6 L517.4,509.3 L520.8,512.9 L524.2,516.4 L527.5,519.9 L530.7,523.4 L533.8,526.7 L536.6,529.9 L539.2,532.9 L541.6,536.0 L544.0,539.0 L546.2,541.9 L548.3,544.8 L550.3,547.7 L552.2,550.5 L554.1,553.3 L555.8,556.0 L557.5,558.7 L559.1,561.4 L560.6,564.1 L562.0,566.7 L563.3,569.3 L564.5,571.8 L565.7,574.4 L566.8,576.9 L567.9,579.5 L568.9,582.0 L569.8,584.5 L570.7,587.0 L571.6,589.5 L572.4,591.8 L573.2,594.1 L573.9,596.4 L574.5,598.6 L575.1,600.7 L575.6,602.9 L576.0,605.1 L576.4,607.3 L576.8,609.6 L577.0,611.9 L577.2,614.3 L577.3,616.7 L577.3,619.2 L577.3,621.7 L577.3,624.4 L577.2,627.1 L577.1,629.8 L576.9,632.7 L576.8,635.7 L576.7,638.5 L576.5,641.5 L576.3,644.5 L576.0,647.5 L575.7,650.6 L575.4,653.8 L575.1,657.1 L574.8,660.4 L574.5,663.7 L574.1,667.2 L573.8,670.6 L573.5,674.1 L573.1,677.7 L572.7,681.3 L572.3,685.0 L571.9,688.8 L571.5,692.6 L571.1,696.4 L570.7,700.2 L570.3,704.1 L570.0,708.0 L569.5,711.9 L569.1,715.9 L568.6,720.1 L568.2,724.2 L567.8,728.4 L567.4,732.6 L567.1,736.7 L566.9,740.8 L566.8,744.9 L566.8,748.7 L566.8,752.6 L566.9,756.5 L567.0,760.3 L567.3,764.1 L567.5,767.8 L567.9,771.4 L568.3,774.9 L568.9,778.3 L569.5,781.5 L570.3,784.5 L571.1,787.4 L572.1,790.1 L573.1,792.7 L574.3,795.2 L575.5,797.6 L576.9,799.8 L578.3,801.9 L579.9,803.8 L581.6,805.6 L583.6,807.4 L585.6,808.9 L587.8,810.3 L590.1,811.4 L592.4,812.3 L594.8,813.0 L597.2,813.4 L599.6,813.7 L602.1,813.7 L604.5,813.5 L607.0,813.1 L609.4,812.5 L611.8,811.7 L614.1,810.7 L616.4,809.6 L618.6,808.2 L620.8,806.7 L622.9,805.1 L624.9,803.2 L626.8,801.1 L628.5,799.0 L630.0,796.7 L631.3,794.3 L632.5,791.9 L633.7,789.3 L634.7,786.7 L635.6,784.1 L636.4,781.3 L637.1,778.6 L637.7,775.8 L638.3,772.9 L638.7,770.0 L639.0,767.1 L639.2,764.2 L639.3,761.3 L639.4,758.3 L639.5,755.2 L639.5,752.0 L639.5,748.6 L639.5,745.0 L639.5,741.1 L639.5,737.0 L639.5,732.6 L639.4,728.0 L639.3,723.3 L639.2,718.5 L639.0,713.6 L638.8,708.8 L638.5,704.0 L638.2,699.3 L637.8,694.7 L637.3,690.1 L636.8,685.5 L636.2,680.9 L635.6,676.3 L635.0,671.7 L634.3,667.2 L633.7,662.7 L633.0,658.2 L632.3,653.7 L631.6,649.1 L630.8,644.5 L629.9,640.0 L629.1,635.6 L628.2,631.1 L627.4,626.7 L626.5,622.3 L625.7,617.8 L625.0,613.3 L624.3,608.7 L623.6,603.9 L622.9,599.1 L622.2,594.2 L621.5,589.2 L620.9,584.2 L620.3,579.2 L619.7,574.2 L619.2,569.2 L618.7,564.2 L618.3,559.3 L617.9,554.4 L617.5,549.4 L617.2,544.5 L616.9,539.6 L616.7,534.6 L616.5,529.7 L616.3,524.7 L616.2,519.8 L616.1,514.9 L616.0,509.9 L616.0,504.9 L616.0,499.9 L616.0,494.9 L616.0,489.9 L616.1,484.9 L616.2,479.9 L616.4,475.0 L616.7,470.2 L617.0,465.4 L617.3,460.8 L617.8,456.2 L618.3,451.5 L618.9,446.9 L619.5,442.4 L620.2,437.9 L620.9,433.5 L621.7,429.2 L622.5,425.1 L623.4,421.0 L624.3,417.1 L625.3,413.4 L626.4,409.8 L627.6,406.3 L628.8,402.8 L630.1,399.4 L631.4,396.1 L632.8,392.8 L634.1,389.5 L635.4,386.3 L636.7,383.1 L637.9,380.1 L639.0,377.2 L640.1,374.4 L641.2,371.7 L642.3,369.1 L643.3,366.7 L644.4,364.4 L645.4,362.2 L646.5,360.1 L647.6,358.1 L648.8,356.2 L650.0,354.3 L651.2,352.6 L652.4,350.9 L653.7,349.3 L655.0,347.8 L656.3,346.3 L657.7,344.8 L659.2,343.4 L660.7,342.0 L662.3,340.6 L663.9,339.3 L665.5,338.0 L667.2,336.7 L668.9,335.5 L670.7,334.4 L672.5,333.3 L674.4,332.2 L676.3,331.2 L678.3,330.3 L680.2,329.4 L682.3,328.6 L684.5,327.8 L686.8,327.0 L689.1,326.3 L691.4,325.6 L693.8,325.0 L696.2,324.5 L698.5,324.0 L700.8,323.5 L703.1,323.1 L705.3,322.8 L707.5,322.5 L709.7,322.3 L711.9,322.2 L714.1,322.1 L716.4,322.0 L718.7,322.0 L721.1,322.0 L723.6,322.0 L726.0,322.2 L728.6,322.4 L731.2,322.6 L733.9,323.0 L736.7,323.3 L739.6,323.7 L742.6,324.2 L745.6,324.6 L748.8,324.9 L752.0,325.3 L755.1,325.6 L758.3,325.9 L761.6,326.2 L764.9,326.5 L768.2,326.8 L771.6,327.1 L775.0,327.4 L778.3,327.6 L781.7,327.9 L785.0,328.1 L788.3,328.3 L791.6,328.6 L795.1,328.9 L798.5,329.1 L802.0,329.3 L805.4,329.6 L808.9,329.7 L812.2,329.8 L815.6,329.8 L818.8,329.7 L821.9,329.5 L824.8,329.2 L827.7,328.9 L830.5,328.5 L833.3,328.0 L835.9,327.5 L838.5,326.9 L840.9,326.3 L843.3,325.6 L845.6,324.9 L847.9,324.1 L850.1,323.2 L852.2,322.2 L854.2,321.2 L856.1,320.2 L857.9,319.1 L859.7,318.0 L861.3,316.8 L862.9,315.6 L864.5,314.4 L866.0,313.1 L867.6,311.7 L869.1,310.3 L870.5,308.8 L871.9,307.3 L873.3,305.7 L874.6,304.1 L875.8,302.4 L876.9,300.6 L878.0,298.8 L878.9,296.9 L879.8,294.9 L880.6,293.0 L881.3,291.0 L881.9,289.0 L882.4,287.1 L882.8,285.1 L883.2,283.2 L883.5,281.3 L883.7,279.4 L884.0,277.5 L884.1,275.6 L884.2,273.7 L884.3,271.7 L884.2,269.8 L884.1,267.8 L883.9,265.8 L883.7,263.9 L883.3,261.9 L882.9,259.9 L882.3,258.0 L881.7,256.1 L881.0,254.2 L880.3,252.3 L879.4,250.5 L878.5,248.6 L877.5,246.8 L876.4,245.1 L875.2,243.4 L874.0,241.7 L872.7,240.2 L871.4,238.8 L870.0,237.3 L868.5,236.0 L866.9,234.6 L865.2,233.4 L863.5,232.2 L861.6,231.1 L859.7,230.1 L857.6,229.1 L855.4,228.3 L853.1,227.6 L850.8,227.0 L848.5,226.5 L846.1,226.1 L843.8,225.8 L841.5,225.5 L839.3,225.3 L837.1,225.2 L835.1,225.1 L833.0,225.1 L830.9,225.1 L828.9,225.3 L827.0,225.5 L825.1,225.7 L823.3,226.0 L821.5,226.4 L819.8,226.7 L818.1,227.1 L816.4,227.5 L814.5,228.0 L812.7,228.5 L810.9,229.1 L809.1,229.7 L807.3,230.3 L805.6,230.9 L803.8,231.6 L802.1,232.2 L800.5,232.9 L798.8,233.6 L797.1,234.3 L795.4,235.0 L793.6,235.8 L791.9,236.5 L790.2,237.3 L788.6,238.1 L786.9,238.8 L785.2,239.6 L783.6,240.4 L781.9,241.2 L780.2,242.0 L778.5,242.8 L776.8,243.7 L775.1,244.5 L773.5,245.4 L771.9,246.2 L770.3,247.0 L768.7,247.8 L767.2,248.5 L765.7,249.2 L764.1,249.9 L762.4,250.6 L760.8,251.3 L759.3,252.0 L757.7,252.7 L756.2,253.3 L754.7,253.9 L753.2,254.4 L751.7,254.9 L750.3,255.4 L748.9,255.8 L747.4,256.2 L746.0,256.5 L744.6,256.8 L743.2,257.1 L741.8,257.4 L740.3,257.7 L738.7,257.9 L737.0,258.1 L735.3,258.4 L733.4,258.6 L731.5,258.9 L729.6,259.2 L727.7,259.4 L725.7,259.6 L723.8,259.8 L721.9,259.9 L719.9,260.0 L718.0,260.0 L716.0,260.0 L713.9,259.9 L711.7,259.8 L709.6,259.7 L707.4,259.5 L705.2,259.2 L702.9,258.9 L700.6,258.6 L698.2,258.1 L695.7,257.6 L693.1,257.0 L690.4,256.4 L687.5,255.5 L684.5,254.6 L681.3,253.5 L678.0,252.4 L674.6,251.2 L671.2,250.0 L667.7,248.9 L664.2,247.7 L660.8,246.7 L657.4,245.7 L654.0,244.8 L650.7,243.9 L647.4,243.0 L644.1,242.2 L640.8,241.3 L637.6,240.5 L634.3,239.6 L631.1,238.7 L627.9,237.8 L624.9,236.9 L621.7,235.8 L618.5,234.7 L615.3,233.5 L611.9,232.3 L608.6,231.1 L605.1,230.0 L601.6,228.9 L598.1,227.9 L594.4,227.1 L590.9,226.4 L587.4,225.8 L583.9,225.3 L580.4,224.9 L576.9,224.6 L573.4,224.3 L570.0,224.2 L566.5,224.1 L563.1,224.1 L559.7,224.2 L556.4,224.3 L553.1,224.6 L549.8,225.0 L546.5,225.4 L543.3,225.9 L540.1,226.5 L536.9,227.2 L533.8,228.0 L530.7,228.9 L527.6,229.9 L524.5,231.0 L521.5,232.1 L518.5,233.4 L515.6,234.8 L512.7,236.2 L509.9,237.6 L507.1,239.2 L504.4,240.7 L501.7,242.3 L499.0,243.9 L496.2,245.6 L493.5,247.5 L490.8,249.3 L488.1,251.2 L485.4,253.2 L482.8,255.1 L480.3,257.1 L477.8,259.0 L475.4,261.0 L473.1,262.8 L470.7,264.9 L468.3,267.0 L465.9,269.2 L463.5,271.3 L461.3,273.5 L459.2,275.5 L457.2,277.3 L455.5,279.0 L454.1,280.3 L453.1,281.3 L451.8,282.9 L450.9,284.7 L450.6,286.7 L450.8,288.7 L451.5,290.6 L452.6,292.2 L454.2,293.5 L456.0,294.4 L458.0,294.7 L460.0,294.5 L461.9,293.8Z" fill="url(#gTube)"/>
<g clip-path="url(#cLeft)"><path d="M463.5,292.7 L464.8,291.5 L466.2,290.1 L467.9,288.4 L469.8,286.6 L471.9,284.6 L474.1,282.6 L476.3,280.5 L478.5,278.5 L480.7,276.5 L482.9,274.8 L485.1,272.9 L487.4,271.1 L489.8,269.2 L492.2,267.4 L494.6,265.5 L497.1,263.7 L499.6,261.9 L502.1,260.2 L504.6,258.6 L507.0,257.1 L509.5,255.5 L512.1,254.1 L514.6,252.6 L517.2,251.2 L519.7,249.9 L522.2,248.6 L524.7,247.5 L527.3,246.4 L529.8,245.4 L532.4,244.5 L535.0,243.7 L537.7,243.0 L540.4,242.3 L543.2,241.8 L546.0,241.2 L548.8,240.8 L551.6,240.5 L554.5,240.2 L557.4,240.0 L560.3,239.8 L563.2,239.8 L566.3,239.8 L569.3,239.9 L572.4,240.1 L575.5,240.3 L578.7,240.7 L581.8,241.1 L584.9,241.5 L588.1,242.1 L591.2,242.7 L594.1,243.4 L597.1,244.2 L600.2,245.2 L603.3,246.3 L606.5,247.4 L609.7,248.6 L613.0,249.9 L616.4,251.1 L619.8,252.3 L623.3,253.4 L626.6,254.4 L630.0,255.3 L633.3,256.3 L636.6,257.2 L639.9,258.0 L643.2,258.9 L646.4,259.8 L649.7,260.7 L652.9,261.6 L656.0,262.5 L659.2,263.5 L662.4,264.6 L665.8,265.7 L669.1,266.9 L672.5,268.1 L675.9,269.3 L679.3,270.4 L682.6,271.5 L685.9,272.5 L689.1,273.4 L692.1,274.1 L695.0,274.7 L697.8,275.2 L700.5,275.6 L703.1,276.0 L705.7,276.3 L708.2,276.5 L710.6,276.7 L713.0,276.9 L715.4,277.0 L717.9,277.1 L720.4,277.0 L722.8,277.0 L725.1,276.8 L727.4,276.6 L729.6,276.4 L731.7,276.2 L733.7,275.9 L735.7,275.7 L737.5,275.4 L739.4,275.2 L741.2,274.9 L743.0,274.6 L744.8,274.3 L746.5,274.0 L748.3,273.6 L750.0,273.2 L751.7,272.8 L753.5,272.3 L755.3,271.8 L757.1,271.2 L759.0,270.6 L760.8,269.9 L762.5,269.2 L764.3,268.5 L766.0,267.8 L767.7,267.0 L769.4,266.3 L771.1,265.6 L772.7,264.8 L774.5,264.0 L776.2,263.2 L777.9,262.3 L779.6,261.5 L781.3,260.6 L782.9,259.8 L784.6,259.0 L786.1,258.2 L787.7,257.4 L789.3,256.6 L790.9,255.9 L792.5,255.1 L794.2,254.3 L795.8,253.6 L797.4,252.8 L799.0,252.1 L800.5,251.4 L802.1,250.7 L803.6,250.1 L805.2,249.4 L806.8,248.8 L808.4,248.1 L810.0,247.5 L811.6,246.9 L813.1,246.4 L814.6,245.8 L816.1,245.3 L817.6,244.9 L819.0,244.5 L820.4,244.1 L822.0,243.7 L823.5,243.4 L824.9,243.1 L826.3,242.8 L827.7,242.6 L829.0,242.4 L830.4,242.2 L831.7,242.1 L833.1,242.1 L834.5,242.1 L836.2,242.2 L837.9,242.3 L839.8,242.5 L841.6,242.7 L843.5,242.9 L845.3,243.3 L847.0,243.6 L848.6,244.0 L850.0,244.4 L851.2,244.9 L852.3,245.4 L853.4,245.9 L854.5,246.5 L855.5,247.2 L856.5,247.9 L857.5,248.7 L858.4,249.5 L859.3,250.4 L860.2,251.3 L861.0,252.3 L861.8,253.2 L862.5,254.2 L863.2,255.3 L863.9,256.5 L864.5,257.7 L865.1,259.0 L865.6,260.3 L866.1,261.5 L866.6,262.8 L866.9,264.1 L867.2,265.3 L867.5,266.5 L867.7,267.8 L867.8,269.1 L867.9,270.5 L868.0,271.8 L868.0,273.2 L867.9,274.6 L867.8,276.0 L867.7,277.4 L867.5,278.8 L867.2,280.3 L866.9,281.7 L866.6,283.2 L866.2,284.6 L865.8,285.9 L865.3,287.3 L864.8,288.5 L864.2,289.7 L863.6,290.8 L863.0,291.9 L862.2,293.0 L861.4,294.1 L860.5,295.2 L859.6,296.3 L858.6,297.4 L857.5,298.4 L856.4,299.5 L855.3,300.5 L854.1,301.4 L852.9,302.4 L851.6,303.3 L850.4,304.1 L849.1,304.9 L847.8,305.7 L846.5,306.4 L845.1,307.1 L843.6,307.7 L842.1,308.3 L840.4,308.9 L838.5,309.5 L836.6,310.1 L834.5,310.6 L832.4,311.1 L830.2,311.5 L827.9,311.9 L825.6,312.2 L823.1,312.5 L820.6,312.7 L818.0,312.9 L815.3,313.0 L812.5,313.0 L809.5,312.9 L806.3,312.7 L803.1,312.6 L799.7,312.3 L796.3,312.1 L792.9,311.8 L789.5,311.5 L786.2,311.3 L782.9,311.1 L779.6,310.8 L776.3,310.6 L773.0,310.3 L769.7,310.0 L766.4,309.7 L763.1,309.4 L759.9,309.1 L756.7,308.8 L753.6,308.5 L750.7,308.2 L747.8,307.8 L744.9,307.4 L741.9,307.0 L739.0,306.6 L736.0,306.2 L733.1,305.9 L730.1,305.5 L727.2,305.3 L724.2,305.2 L721.4,305.1 L718.7,305.1 L716.0,305.1 L713.4,305.2 L710.8,305.3 L708.2,305.5 L705.6,305.7 L703.0,306.1 L700.4,306.4 L697.8,306.9 L695.1,307.4 L692.4,308.0 L689.7,308.6 L687.0,309.3 L684.3,310.1 L681.6,310.9 L678.9,311.8 L676.3,312.8 L673.7,313.8 L671.1,314.9 L668.7,316.1 L666.3,317.3 L664.0,318.6 L661.7,320.0 L659.5,321.4 L657.4,322.9 L655.3,324.5 L653.2,326.1 L651.2,327.7 L649.3,329.4 L647.5,331.1 L645.7,332.9 L643.9,334.7 L642.2,336.6 L640.6,338.6 L639.0,340.6 L637.4,342.7 L635.9,344.9 L634.4,347.1 L633.0,349.5 L631.6,352.0 L630.2,354.6 L629.0,357.2 L627.8,359.9 L626.6,362.6 L625.5,365.3 L624.3,368.1 L623.2,371.0 L622.1,373.9 L620.9,376.9 L619.7,379.9 L618.4,383.0 L617.0,386.3 L615.6,389.7 L614.2,393.2 L612.8,396.9 L611.4,400.7 L610.1,404.6 L608.8,408.7 L607.7,412.9 L606.6,417.1 L605.7,421.5 L604.8,426.0 L603.9,430.5 L603.1,435.2 L602.4,439.9 L601.7,444.7 L601.1,449.5 L600.6,454.3 L600.1,459.2 L599.7,464.2 L599.3,469.2 L599.0,474.2 L598.8,479.4 L598.7,484.5 L598.6,489.6 L598.5,494.8 L598.5,499.9 L598.5,505.0 L598.6,510.1 L598.6,515.1 L598.7,520.2 L598.8,525.3 L599.0,530.3 L599.2,535.4 L599.4,540.4 L599.7,545.5 L600.0,550.6 L600.3,555.6 L600.7,560.7 L601.2,565.8 L601.7,571.0 L602.2,576.1 L602.8,581.3 L603.4,586.4 L604.0,591.5 L604.7,596.5 L605.4,601.5 L606.0,606.5 L606.7,611.3 L607.5,616.1 L608.3,620.8 L609.1,625.5 L609.9,630.0 L610.8,634.5 L611.6,638.9 L612.5,643.3 L613.3,647.6 L614.0,652.0 L614.7,656.3 L615.4,660.8 L616.1,665.3 L616.7,669.8 L617.4,674.3 L618.0,678.7 L618.6,683.1 L619.1,687.5 L619.6,691.9 L620.1,696.3 L620.4,700.7 L620.7,705.1 L621.0,709.7 L621.2,714.4 L621.4,719.0 L621.5,723.7 L621.6,728.3 L621.7,732.8 L621.7,737.1 L621.7,741.1 L621.7,745.0 L621.7,748.6 L621.7,751.9 L621.7,755.0 L621.6,757.9 L621.5,760.6 L621.4,763.2 L621.3,765.6 L621.0,767.8 L620.7,770.0 L620.3,772.2 L619.8,774.4 L619.2,776.6 L618.6,778.7 L617.9,780.7 L617.2,782.6 L616.4,784.4 L615.6,786.0 L614.8,787.5 L614.0,788.8 L613.2,789.9 L612.4,790.8 L611.4,791.7 L610.3,792.6 L609.1,793.4 L607.9,794.1 L606.7,794.7 L605.5,795.2 L604.3,795.6 L603.3,795.9 L602.5,796.1 L601.7,796.1 L600.8,796.1 L600.0,795.9 L599.1,795.7 L598.2,795.5 L597.4,795.1 L596.5,794.7 L595.8,794.2 L595.0,793.6 L594.4,793.0 L593.6,792.1 L592.9,791.1 L592.1,790.0 L591.4,788.7 L590.6,787.2 L589.9,785.6 L589.2,783.8 L588.6,781.9 L588.0,779.8 L587.5,777.5 L587.0,775.1 L586.6,772.3 L586.2,769.4 L585.9,766.2 L585.6,762.9 L585.4,759.5 L585.3,755.9 L585.2,752.3 L585.2,748.7 L585.2,745.1 L585.3,741.6 L585.5,737.9 L585.8,734.0 L586.1,730.1 L586.5,726.1 L586.9,722.0 L587.4,718.0 L587.8,713.9 L588.3,709.9 L588.7,705.9 L589.0,702.1 L589.4,698.3 L589.8,694.5 L590.2,690.7 L590.6,687.0 L591.0,683.3 L591.4,679.6 L591.8,676.0 L592.1,672.4 L592.5,668.8 L592.8,665.4 L593.0,662.1 L593.3,658.7 L593.6,655.4 L593.9,652.2 L594.1,648.9 L594.3,645.7 L594.5,642.6 L594.7,639.4 L594.8,636.3 L594.9,633.4 L595.0,630.5 L595.0,627.6 L595.1,624.7 L595.1,621.8 L595.1,618.9 L595.0,616.1 L594.8,613.2 L594.6,610.3 L594.2,607.4 L593.8,604.5 L593.3,601.8 L592.8,599.1 L592.2,596.5 L591.5,593.9 L590.7,591.3 L589.9,588.8 L589.1,586.2 L588.2,583.6 L587.3,581.0 L586.3,578.3 L585.2,575.6 L584.1,572.9 L583.0,570.1 L581.8,567.3 L580.5,564.4 L579.1,561.5 L577.6,558.6 L576.0,555.6 L574.3,552.6 L572.5,549.6 L570.7,546.7 L568.8,543.7 L566.8,540.7 L564.7,537.6 L562.5,534.6 L560.3,531.5 L557.9,528.3 L555.4,525.1 L552.8,521.9 L549.9,518.4 L546.8,514.9 L543.5,511.4 L540.2,507.9 L536.9,504.3 L533.6,500.8 L530.3,497.4 L527.3,494.0 L524.5,490.8 L521.9,487.6 L519.6,484.5 L517.3,481.3 L515.2,478.1 L513.1,474.9 L511.1,471.6 L509.2,468.3 L507.2,465.1 L505.3,461.9 L503.3,458.7 L501.3,455.6 L499.4,452.9 L497.6,450.2 L495.9,447.6 L494.2,445.0 L492.5,442.5 L490.7,439.9 L488.9,437.5 L487.0,435.0 L485.1,432.6 L482.9,430.2 L480.7,427.8 L478.4,425.5 L476.1,423.4 L473.7,421.4 L471.4,419.5 L469.1,417.6 L466.8,415.8 L464.6,414.1 L462.5,412.4 L460.5,410.8 L458.2,409.0 L455.9,407.3 L453.6,405.6 L451.4,404.1 L449.3,402.6 L447.4,401.2 L445.5,399.8 L443.9,398.5 L442.4,397.2 L441.2,396.0 L439.9,394.7 L438.7,393.3 L437.7,392.0 L436.7,390.8 L435.8,389.5 L435.1,388.2 L434.3,387.0 L433.7,385.7 L433.1,384.3 L432.5,383.0 L432.0,381.6 L431.6,380.2 L431.3,378.8 L431.0,377.3 L430.7,375.8 L430.6,374.2 L430.4,372.6 L430.4,371.0 L430.4,369.5 L430.4,367.9 L430.5,366.7 L430.8,365.2 L431.1,363.4 L431.6,361.6 L432.1,359.7 L432.7,357.9 L433.2,356.1 L433.7,354.5 L434.2,353.0 L434.6,351.5 L434.8,349.3 L434.5,347.1 L433.6,345.1 L432.2,343.4 L430.4,342.0 L428.3,341.2 L426.1,341.0 L423.9,341.3 L421.9,342.2 L420.2,343.6 L418.8,345.4 L418.0,347.5 L417.8,348.2 L417.5,349.4 L417.0,351.0 L416.4,352.9 L415.8,355.0 L415.1,357.2 L414.5,359.6 L414.0,362.0 L413.6,364.5 L413.4,367.1 L413.3,369.2 L413.3,371.4 L413.4,373.6 L413.5,375.8 L413.8,378.0 L414.1,380.2 L414.6,382.4 L415.1,384.7 L415.7,386.9 L416.5,389.0 L417.3,391.1 L418.2,393.1 L419.2,395.0 L420.3,397.0 L421.5,398.9 L422.8,400.8 L424.1,402.6 L425.6,404.4 L427.2,406.2 L428.8,408.0 L430.8,409.9 L432.9,411.7 L435.0,413.4 L437.1,415.0 L439.3,416.6 L441.4,418.1 L443.6,419.7 L445.6,421.2 L447.6,422.7 L449.5,424.2 L451.7,426.0 L453.9,427.7 L456.1,429.4 L458.3,431.2 L460.4,432.9 L462.5,434.6 L464.5,436.4 L466.5,438.2 L468.3,440.0 L470.1,441.8 L471.7,443.8 L473.4,445.8 L474.9,447.9 L476.5,450.0 L478.1,452.3 L479.7,454.7 L481.3,457.2 L483.0,459.8 L484.8,462.5 L486.7,465.4 L488.5,468.1 L490.4,471.0 L492.2,474.1 L494.2,477.3 L496.2,480.7 L498.3,484.1 L500.5,487.6 L502.9,491.2 L505.4,494.8 L508.1,498.4 L511.0,502.0 L514.2,505.6 L517.4,509.3 L520.8,512.9 L524.2,516.4 L527.5,519.9 L530.7,523.4 L533.8,526.7 L536.6,529.9 L539.2,532.9 L541.6,536.0 L544.0,539.0 L546.2,541.9 L548.3,544.8 L550.3,547.7 L552.2,550.5 L554.1,553.3 L555.8,556.0 L557.5,558.7 L559.1,561.4 L560.6,564.1 L562.0,566.7 L563.3,569.3 L564.5,571.8 L565.7,574.4 L566.8,576.9 L567.9,579.5 L568.9,582.0 L569.8,584.5 L570.7,587.0 L571.6,589.5 L572.4,591.8 L573.2,594.1 L573.9,596.4 L574.5,598.6 L575.1,600.7 L575.6,602.9 L576.0,605.1 L576.4,607.3 L576.8,609.6 L577.0,611.9 L577.2,614.3 L577.3,616.7 L577.3,619.2 L577.3,621.7 L577.3,624.4 L577.2,627.1 L577.1,629.8 L576.9,632.7 L576.8,635.7 L576.7,638.5 L576.5,641.5 L576.3,644.5 L576.0,647.5 L575.7,650.6 L575.4,653.8 L575.1,657.1 L574.8,660.4 L574.5,663.7 L574.1,667.2 L573.8,670.6 L573.5,674.1 L573.1,677.7 L572.7,681.3 L572.3,685.0 L571.9,688.8 L571.5,692.6 L571.1,696.4 L570.7,700.2 L570.3,704.1 L570.0,708.0 L569.5,711.9 L569.1,715.9 L568.6,720.1 L568.2,724.2 L567.8,728.4 L567.4,732.6 L567.1,736.7 L566.9,740.8 L566.8,744.9 L566.8,748.7 L566.8,752.6 L566.9,756.5 L567.0,760.3 L567.3,764.1 L567.5,767.8 L567.9,771.4 L568.3,774.9 L568.9,778.3 L569.5,781.5 L570.3,784.5 L571.1,787.4 L572.1,790.1 L573.1,792.7 L574.3,795.2 L575.5,797.6 L576.9,799.8 L578.3,801.9 L579.9,803.8 L581.6,805.6 L583.6,807.4 L585.6,808.9 L587.8,810.3 L590.1,811.4 L592.4,812.3 L594.8,813.0 L597.2,813.4 L599.6,813.7 L602.1,813.7 L604.5,813.5 L607.0,813.1 L609.4,812.5 L611.8,811.7 L614.1,810.7 L616.4,809.6 L618.6,808.2 L620.8,806.7 L622.9,805.1 L624.9,803.2 L626.8,801.1 L628.5,799.0 L630.0,796.7 L631.3,794.3 L632.5,791.9 L633.7,789.3 L634.7,786.7 L635.6,784.1 L636.4,781.3 L637.1,778.6 L637.7,775.8 L638.3,772.9 L638.7,770.0 L639.0,767.1 L639.2,764.2 L639.3,761.3 L639.4,758.3 L639.5,755.2 L639.5,752.0 L639.5,748.6 L639.5,745.0 L639.5,741.1 L639.5,737.0 L639.5,732.6 L639.4,728.0 L639.3,723.3 L639.2,718.5 L639.0,713.6 L638.8,708.8 L638.5,704.0 L638.2,699.3 L637.8,694.7 L637.3,690.1 L636.8,685.5 L636.2,680.9 L635.6,676.3 L635.0,671.7 L634.3,667.2 L633.7,662.7 L633.0,658.2 L632.3,653.7 L631.6,649.1 L630.8,644.5 L629.9,640.0 L629.1,635.6 L628.2,631.1 L627.4,626.7 L626.5,622.3 L625.7,617.8 L625.0,613.3 L624.3,608.7 L623.6,603.9 L622.9,599.1 L622.2,594.2 L621.5,589.2 L620.9,584.2 L620.3,579.2 L619.7,574.2 L619.2,569.2 L618.7,564.2 L618.3,559.3 L617.9,554.4 L617.5,549.4 L617.2,544.5 L616.9,539.6 L616.7,534.6 L616.5,529.7 L616.3,524.7 L616.2,519.8 L616.1,514.9 L616.0,509.9 L616.0,504.9 L616.0,499.9 L616.0,494.9 L616.0,489.9 L616.1,484.9 L616.2,479.9 L616.4,475.0 L616.7,470.2 L617.0,465.4 L617.3,460.8 L617.8,456.2 L618.3,451.5 L618.9,446.9 L619.5,442.4 L620.2,437.9 L620.9,433.5 L621.7,429.2 L622.5,425.1 L623.4,421.0 L624.3,417.1 L625.3,413.4 L626.4,409.8 L627.6,406.3 L628.8,402.8 L630.1,399.4 L631.4,396.1 L632.8,392.8 L634.1,389.5 L635.4,386.3 L636.7,383.1 L637.9,380.1 L639.0,377.2 L640.1,374.4 L641.2,371.7 L642.3,369.1 L643.3,366.7 L644.4,364.4 L645.4,362.2 L646.5,360.1 L647.6,358.1 L648.8,356.2 L650.0,354.3 L651.2,352.6 L652.4,350.9 L653.7,349.3 L655.0,347.8 L656.3,346.3 L657.7,344.8 L659.2,343.4 L660.7,342.0 L662.3,340.6 L663.9,339.3 L665.5,338.0 L667.2,336.7 L668.9,335.5 L670.7,334.4 L672.5,333.3 L674.4,332.2 L676.3,331.2 L678.3,330.3 L680.2,329.4 L682.3,328.6 L684.5,327.8 L686.8,327.0 L689.1,326.3 L691.4,325.6 L693.8,325.0 L696.2,324.5 L698.5,324.0 L700.8,323.5 L703.1,323.1 L705.3,322.8 L707.5,322.5 L709.7,322.3 L711.9,322.2 L714.1,322.1 L716.4,322.0 L718.7,322.0 L721.1,322.0 L723.6,322.0 L726.0,322.2 L728.6,322.4 L731.2,322.6 L733.9,323.0 L736.7,323.3 L739.6,323.7 L742.6,324.2 L745.6,324.6 L748.8,324.9 L752.0,325.3 L755.1,325.6 L758.3,325.9 L761.6,326.2 L764.9,326.5 L768.2,326.8 L771.6,327.1 L775.0,327.4 L778.3,327.6 L781.7,327.9 L785.0,328.1 L788.3,328.3 L791.6,328.6 L795.1,328.9 L798.5,329.1 L802.0,329.3 L805.4,329.6 L808.9,329.7 L812.2,329.8 L815.6,329.8 L818.8,329.7 L821.9,329.5 L824.8,329.2 L827.7,328.9 L830.5,328.5 L833.3,328.0 L835.9,327.5 L838.5,326.9 L840.9,326.3 L843.3,325.6 L845.6,324.9 L847.9,324.1 L850.1,323.2 L852.2,322.2 L854.2,321.2 L856.1,320.2 L857.9,319.1 L859.7,318.0 L861.3,316.8 L862.9,315.6 L864.5,314.4 L866.0,313.1 L867.6,311.7 L869.1,310.3 L870.5,308.8 L871.9,307.3 L873.3,305.7 L874.6,304.1 L875.8,302.4 L876.9,300.6 L878.0,298.8 L878.9,296.9 L879.8,294.9 L880.6,293.0 L881.3,291.0 L881.9,289.0 L882.4,287.1 L882.8,285.1 L883.2,283.2 L883.5,281.3 L883.7,279.4 L884.0,277.5 L884.1,275.6 L884.2,273.7 L884.3,271.7 L884.2,269.8 L884.1,267.8 L883.9,265.8 L883.7,263.9 L883.3,261.9 L882.9,259.9 L882.3,258.0 L881.7,256.1 L881.0,254.2 L880.3,252.3 L879.4,250.5 L878.5,248.6 L877.5,246.8 L876.4,245.1 L875.2,243.4 L874.0,241.7 L872.7,240.2 L871.4,238.8 L870.0,237.3 L868.5,236.0 L866.9,234.6 L865.2,233.4 L863.5,232.2 L861.6,231.1 L859.7,230.1 L857.6,229.1 L855.4,228.3 L853.1,227.6 L850.8,227.0 L848.5,226.5 L846.1,226.1 L843.8,225.8 L841.5,225.5 L839.3,225.3 L837.1,225.2 L835.1,225.1 L833.0,225.1 L830.9,225.1 L828.9,225.3 L827.0,225.5 L825.1,225.7 L823.3,226.0 L821.5,226.4 L819.8,226.7 L818.1,227.1 L816.4,227.5 L814.5,228.0 L812.7,228.5 L810.9,229.1 L809.1,229.7 L807.3,230.3 L805.6,230.9 L803.8,231.6 L802.1,232.2 L800.5,232.9 L798.8,233.6 L797.1,234.3 L795.4,235.0 L793.6,235.8 L791.9,236.5 L790.2,237.3 L788.6,238.1 L786.9,238.8 L785.2,239.6 L783.6,240.4 L781.9,241.2 L780.2,242.0 L778.5,242.8 L776.8,243.7 L775.1,244.5 L773.5,245.4 L771.9,246.2 L770.3,247.0 L768.7,247.8 L767.2,248.5 L765.7,249.2 L764.1,249.9 L762.4,250.6 L760.8,251.3 L759.3,252.0 L757.7,252.7 L756.2,253.3 L754.7,253.9 L753.2,254.4 L751.7,254.9 L750.3,255.4 L748.9,255.8 L747.4,256.2 L746.0,256.5 L744.6,256.8 L743.2,257.1 L741.8,257.4 L740.3,257.7 L738.7,257.9 L737.0,258.1 L735.3,258.4 L733.4,258.6 L731.5,258.9 L729.6,259.2 L727.7,259.4 L725.7,259.6 L723.8,259.8 L721.9,259.9 L719.9,260.0 L718.0,260.0 L716.0,260.0 L713.9,259.9 L711.7,259.8 L709.6,259.7 L707.4,259.5 L705.2,259.2 L702.9,258.9 L700.6,258.6 L698.2,258.1 L695.7,257.6 L693.1,257.0 L690.4,256.4 L687.5,255.5 L684.5,254.6 L681.3,253.5 L678.0,252.4 L674.6,251.2 L671.2,250.0 L667.7,248.9 L664.2,247.7 L660.8,246.7 L657.4,245.7 L654.0,244.8 L650.7,243.9 L647.4,243.0 L644.1,242.2 L640.8,241.3 L637.6,240.5 L634.3,239.6 L631.1,238.7 L627.9,237.8 L624.9,236.9 L621.7,235.8 L618.5,234.7 L615.3,233.5 L611.9,232.3 L608.6,231.1 L605.1,230.0 L601.6,228.9 L598.1,227.9 L594.4,227.1 L590.9,226.4 L587.4,225.8 L583.9,225.3 L580.4,224.9 L576.9,224.6 L573.4,224.3 L570.0,224.2 L566.5,224.1 L563.1,224.1 L559.7,224.2 L556.4,224.3 L553.1,224.6 L549.8,225.0 L546.5,225.4 L543.3,225.9 L540.1,226.5 L536.9,227.2 L533.8,228.0 L530.7,228.9 L527.6,229.9 L524.5,231.0 L521.5,232.1 L518.5,233.4 L515.6,234.8 L512.7,236.2 L509.9,237.6 L507.1,239.2 L504.4,240.7 L501.7,242.3 L499.0,243.9 L496.2,245.6 L493.5,247.5 L490.8,249.3 L488.1,251.2 L485.4,253.2 L482.8,255.1 L480.3,257.1 L477.8,259.0 L475.4,261.0 L473.1,262.8 L470.7,264.9 L468.3,267.0 L465.9,269.2 L463.5,271.3 L461.3,273.5 L459.2,275.5 L457.2,277.3 L455.5,279.0 L454.1,280.3 L453.1,281.3 L451.8,282.9 L450.9,284.7 L450.6,286.7 L450.8,288.7 L451.5,290.6 L452.6,292.2 L454.2,293.5 L456.0,294.4 L458.0,294.7 L460.0,294.5 L461.9,293.8Z" fill="url(#gTubeL)"/></g>
<g clip-path="url(#cBlue)"><path d="M463.5,292.7 L464.8,291.5 L466.2,290.1 L467.9,288.4 L469.8,286.6 L471.9,284.6 L474.1,282.6 L476.3,280.5 L478.5,278.5 L480.7,276.5 L482.9,274.8 L485.1,272.9 L487.4,271.1 L489.8,269.2 L492.2,267.4 L494.6,265.5 L497.1,263.7 L499.6,261.9 L502.1,260.2 L504.6,258.6 L507.0,257.1 L509.5,255.5 L512.1,254.1 L514.6,252.6 L517.2,251.2 L519.7,249.9 L522.2,248.6 L524.7,247.5 L527.3,246.4 L529.8,245.4 L532.4,244.5 L535.0,243.7 L537.7,243.0 L540.4,242.3 L543.2,241.8 L546.0,241.2 L548.8,240.8 L551.6,240.5 L554.5,240.2 L557.4,240.0 L560.3,239.8 L563.2,239.8 L566.3,239.8 L569.3,239.9 L572.4,240.1 L575.5,240.3 L578.7,240.7 L581.8,241.1 L584.9,241.5 L588.1,242.1 L591.2,242.7 L594.1,243.4 L597.1,244.2 L600.2,245.2 L603.3,246.3 L606.5,247.4 L609.7,248.6 L613.0,249.9 L616.4,251.1 L619.8,252.3 L623.3,253.4 L626.6,254.4 L630.0,255.3 L633.3,256.3 L636.6,257.2 L639.9,258.0 L643.2,258.9 L646.4,259.8 L649.7,260.7 L652.9,261.6 L656.0,262.5 L659.2,263.5 L662.4,264.6 L665.8,265.7 L669.1,266.9 L672.5,268.1 L675.9,269.3 L679.3,270.4 L682.6,271.5 L685.9,272.5 L689.1,273.4 L692.1,274.1 L695.0,274.7 L697.8,275.2 L700.5,275.6 L703.1,276.0 L705.7,276.3 L708.2,276.5 L710.6,276.7 L713.0,276.9 L715.4,277.0 L717.9,277.1 L720.4,277.0 L722.8,277.0 L725.1,276.8 L727.4,276.6 L729.6,276.4 L731.7,276.2 L733.7,275.9 L735.7,275.7 L737.5,275.4 L739.4,275.2 L741.2,274.9 L743.0,274.6 L744.8,274.3 L746.5,274.0 L748.3,273.6 L750.0,273.2 L751.7,272.8 L753.5,272.3 L755.3,271.8 L757.1,271.2 L759.0,270.6 L760.8,269.9 L762.5,269.2 L764.3,268.5 L766.0,267.8 L767.7,267.0 L769.4,266.3 L771.1,265.6 L772.7,264.8 L774.5,264.0 L776.2,263.2 L777.9,262.3 L779.6,261.5 L781.3,260.6 L782.9,259.8 L784.6,259.0 L786.1,258.2 L787.7,257.4 L789.3,256.6 L790.9,255.9 L792.5,255.1 L794.2,254.3 L795.8,253.6 L797.4,252.8 L799.0,252.1 L800.5,251.4 L802.1,250.7 L803.6,250.1 L805.2,249.4 L806.8,248.8 L808.4,248.1 L810.0,247.5 L811.6,246.9 L813.1,246.4 L814.6,245.8 L816.1,245.3 L817.6,244.9 L819.0,244.5 L820.4,244.1 L822.0,243.7 L823.5,243.4 L824.9,243.1 L826.3,242.8 L827.7,242.6 L829.0,242.4 L830.4,242.2 L831.7,242.1 L833.1,242.1 L834.5,242.1 L836.2,242.2 L837.9,242.3 L839.8,242.5 L841.6,242.7 L843.5,242.9 L845.3,243.3 L847.0,243.6 L848.6,244.0 L850.0,244.4 L851.2,244.9 L852.3,245.4 L853.4,245.9 L854.5,246.5 L855.5,247.2 L856.5,247.9 L857.5,248.7 L858.4,249.5 L859.3,250.4 L860.2,251.3 L861.0,252.3 L861.8,253.2 L862.5,254.2 L863.2,255.3 L863.9,256.5 L864.5,257.7 L865.1,259.0 L865.6,260.3 L866.1,261.5 L866.6,262.8 L866.9,264.1 L867.2,265.3 L867.5,266.5 L867.7,267.8 L867.8,269.1 L867.9,270.5 L868.0,271.8 L868.0,273.2 L867.9,274.6 L867.8,276.0 L867.7,277.4 L867.5,278.8 L867.2,280.3 L866.9,281.7 L866.6,283.2 L866.2,284.6 L865.8,285.9 L865.3,287.3 L864.8,288.5 L864.2,289.7 L863.6,290.8 L863.0,291.9 L862.2,293.0 L861.4,294.1 L860.5,295.2 L859.6,296.3 L858.6,297.4 L857.5,298.4 L856.4,299.5 L855.3,300.5 L854.1,301.4 L852.9,302.4 L851.6,303.3 L850.4,304.1 L849.1,304.9 L847.8,305.7 L846.5,306.4 L845.1,307.1 L843.6,307.7 L842.1,308.3 L840.4,308.9 L838.5,309.5 L836.6,310.1 L834.5,310.6 L832.4,311.1 L830.2,311.5 L827.9,311.9 L825.6,312.2 L823.1,312.5 L820.6,312.7 L818.0,312.9 L815.3,313.0 L812.5,313.0 L809.5,312.9 L806.3,312.7 L803.1,312.6 L799.7,312.3 L796.3,312.1 L792.9,311.8 L789.5,311.5 L786.2,311.3 L782.9,311.1 L779.6,310.8 L776.3,310.6 L773.0,310.3 L769.7,310.0 L766.4,309.7 L763.1,309.4 L759.9,309.1 L756.7,308.8 L753.6,308.5 L750.7,308.2 L747.8,307.8 L744.9,307.4 L741.9,307.0 L739.0,306.6 L736.0,306.2 L733.1,305.9 L730.1,305.5 L727.2,305.3 L724.2,305.2 L721.4,305.1 L718.7,305.1 L716.0,305.1 L713.4,305.2 L710.8,305.3 L708.2,305.5 L705.6,305.7 L703.0,306.1 L700.4,306.4 L697.8,306.9 L695.1,307.4 L692.4,308.0 L689.7,308.6 L687.0,309.3 L684.3,310.1 L681.6,310.9 L678.9,311.8 L676.3,312.8 L673.7,313.8 L671.1,314.9 L668.7,316.1 L666.3,317.3 L664.0,318.6 L661.7,320.0 L659.5,321.4 L657.4,322.9 L655.3,324.5 L653.2,326.1 L651.2,327.7 L649.3,329.4 L647.5,331.1 L645.7,332.9 L643.9,334.7 L642.2,336.6 L640.6,338.6 L639.0,340.6 L637.4,342.7 L635.9,344.9 L634.4,347.1 L633.0,349.5 L631.6,352.0 L630.2,354.6 L629.0,357.2 L627.8,359.9 L626.6,362.6 L625.5,365.3 L624.3,368.1 L623.2,371.0 L622.1,373.9 L620.9,376.9 L619.7,379.9 L618.4,383.0 L617.0,386.3 L615.6,389.7 L614.2,393.2 L612.8,396.9 L611.4,400.7 L610.1,404.6 L608.8,408.7 L607.7,412.9 L606.6,417.1 L605.7,421.5 L604.8,426.0 L603.9,430.5 L603.1,435.2 L602.4,439.9 L601.7,444.7 L601.1,449.5 L600.6,454.3 L600.1,459.2 L599.7,464.2 L599.3,469.2 L599.0,474.2 L598.8,479.4 L598.7,484.5 L598.6,489.6 L598.5,494.8 L598.5,499.9 L598.5,505.0 L598.6,510.1 L598.6,515.1 L598.7,520.2 L598.8,525.3 L599.0,530.3 L599.2,535.4 L599.4,540.4 L599.7,545.5 L600.0,550.6 L600.3,555.6 L600.7,560.7 L601.2,565.8 L601.7,571.0 L602.2,576.1 L602.8,581.3 L603.4,586.4 L604.0,591.5 L604.7,596.5 L605.4,601.5 L606.0,606.5 L606.7,611.3 L607.5,616.1 L608.3,620.8 L609.1,625.5 L609.9,630.0 L610.8,634.5 L611.6,638.9 L612.5,643.3 L613.3,647.6 L614.0,652.0 L614.7,656.3 L615.4,660.8 L616.1,665.3 L616.7,669.8 L617.4,674.3 L618.0,678.7 L618.6,683.1 L619.1,687.5 L619.6,691.9 L620.1,696.3 L620.4,700.7 L620.7,705.1 L621.0,709.7 L621.2,714.4 L621.4,719.0 L621.5,723.7 L621.6,728.3 L621.7,732.8 L621.7,737.1 L621.7,741.1 L621.7,745.0 L621.7,748.6 L621.7,751.9 L621.7,755.0 L621.6,757.9 L621.5,760.6 L621.4,763.2 L621.3,765.6 L621.0,767.8 L620.7,770.0 L620.3,772.2 L619.8,774.4 L619.2,776.6 L618.6,778.7 L617.9,780.7 L617.2,782.6 L616.4,784.4 L615.6,786.0 L614.8,787.5 L614.0,788.8 L613.2,789.9 L612.4,790.8 L611.4,791.7 L610.3,792.6 L609.1,793.4 L607.9,794.1 L606.7,794.7 L605.5,795.2 L604.3,795.6 L603.3,795.9 L602.5,796.1 L601.7,796.1 L600.8,796.1 L600.0,795.9 L599.1,795.7 L598.2,795.5 L597.4,795.1 L596.5,794.7 L595.8,794.2 L595.0,793.6 L594.4,793.0 L593.6,792.1 L592.9,791.1 L592.1,790.0 L591.4,788.7 L590.6,787.2 L589.9,785.6 L589.2,783.8 L588.6,781.9 L588.0,779.8 L587.5,777.5 L587.0,775.1 L586.6,772.3 L586.2,769.4 L585.9,766.2 L585.6,762.9 L585.4,759.5 L585.3,755.9 L585.2,752.3 L585.2,748.7 L585.2,745.1 L585.3,741.6 L585.5,737.9 L585.8,734.0 L586.1,730.1 L586.5,726.1 L586.9,722.0 L587.4,718.0 L587.8,713.9 L588.3,709.9 L588.7,705.9 L589.0,702.1 L589.4,698.3 L589.8,694.5 L590.2,690.7 L590.6,687.0 L591.0,683.3 L591.4,679.6 L591.8,676.0 L592.1,672.4 L592.5,668.8 L592.8,665.4 L593.0,662.1 L593.3,658.7 L593.6,655.4 L593.9,652.2 L594.1,648.9 L594.3,645.7 L594.5,642.6 L594.7,639.4 L594.8,636.3 L594.9,633.4 L595.0,630.5 L595.0,627.6 L595.1,624.7 L595.1,621.8 L595.1,618.9 L595.0,616.1 L594.8,613.2 L594.6,610.3 L594.2,607.4 L593.8,604.5 L593.3,601.8 L592.8,599.1 L592.2,596.5 L591.5,593.9 L590.7,591.3 L589.9,588.8 L589.1,586.2 L588.2,583.6 L587.3,581.0 L586.3,578.3 L585.2,575.6 L584.1,572.9 L583.0,570.1 L581.8,567.3 L580.5,564.4 L579.1,561.5 L577.6,558.6 L576.0,555.6 L574.3,552.6 L572.5,549.6 L570.7,546.7 L568.8,543.7 L566.8,540.7 L564.7,537.6 L562.5,534.6 L560.3,531.5 L557.9,528.3 L555.4,525.1 L552.8,521.9 L549.9,518.4 L546.8,514.9 L543.5,511.4 L540.2,507.9 L536.9,504.3 L533.6,500.8 L530.3,497.4 L527.3,494.0 L524.5,490.8 L521.9,487.6 L519.6,484.5 L517.3,481.3 L515.2,478.1 L513.1,474.9 L511.1,471.6 L509.2,468.3 L507.2,465.1 L505.3,461.9 L503.3,458.7 L501.3,455.6 L499.4,452.9 L497.6,450.2 L495.9,447.6 L494.2,445.0 L492.5,442.5 L490.7,439.9 L488.9,437.5 L487.0,435.0 L485.1,432.6 L482.9,430.2 L480.7,427.8 L478.4,425.5 L476.1,423.4 L473.7,421.4 L471.4,419.5 L469.1,417.6 L466.8,415.8 L464.6,414.1 L462.5,412.4 L460.5,410.8 L458.2,409.0 L455.9,407.3 L453.6,405.6 L451.4,404.1 L449.3,402.6 L447.4,401.2 L445.5,399.8 L443.9,398.5 L442.4,397.2 L441.2,396.0 L439.9,394.7 L438.7,393.3 L437.7,392.0 L436.7,390.8 L435.8,389.5 L435.1,388.2 L434.3,387.0 L433.7,385.7 L433.1,384.3 L432.5,383.0 L432.0,381.6 L431.6,380.2 L431.3,378.8 L431.0,377.3 L430.7,375.8 L430.6,374.2 L430.4,372.6 L430.4,371.0 L430.4,369.5 L430.4,367.9 L430.5,366.7 L430.8,365.2 L431.1,363.4 L431.6,361.6 L432.1,359.7 L432.7,357.9 L433.2,356.1 L433.7,354.5 L434.2,353.0 L434.6,351.5 L434.8,349.3 L434.5,347.1 L433.6,345.1 L432.2,343.4 L430.4,342.0 L428.3,341.2 L426.1,341.0 L423.9,341.3 L421.9,342.2 L420.2,343.6 L418.8,345.4 L418.0,347.5 L417.8,348.2 L417.5,349.4 L417.0,351.0 L416.4,352.9 L415.8,355.0 L415.1,357.2 L414.5,359.6 L414.0,362.0 L413.6,364.5 L413.4,367.1 L413.3,369.2 L413.3,371.4 L413.4,373.6 L413.5,375.8 L413.8,378.0 L414.1,380.2 L414.6,382.4 L415.1,384.7 L415.7,386.9 L416.5,389.0 L417.3,391.1 L418.2,393.1 L419.2,395.0 L420.3,397.0 L421.5,398.9 L422.8,400.8 L424.1,402.6 L425.6,404.4 L427.2,406.2 L428.8,408.0 L430.8,409.9 L432.9,411.7 L435.0,413.4 L437.1,415.0 L439.3,416.6 L441.4,418.1 L443.6,419.7 L445.6,421.2 L447.6,422.7 L449.5,424.2 L451.7,426.0 L453.9,427.7 L456.1,429.4 L458.3,431.2 L460.4,432.9 L462.5,434.6 L464.5,436.4 L466.5,438.2 L468.3,440.0 L470.1,441.8 L471.7,443.8 L473.4,445.8 L474.9,447.9 L476.5,450.0 L478.1,452.3 L479.7,454.7 L481.3,457.2 L483.0,459.8 L484.8,462.5 L486.7,465.4 L488.5,468.1 L490.4,471.0 L492.2,474.1 L494.2,477.3 L496.2,480.7 L498.3,484.1 L500.5,487.6 L502.9,491.2 L505.4,494.8 L508.1,498.4 L511.0,502.0 L514.2,505.6 L517.4,509.3 L520.8,512.9 L524.2,516.4 L527.5,519.9 L530.7,523.4 L533.8,526.7 L536.6,529.9 L539.2,532.9 L541.6,536.0 L544.0,539.0 L546.2,541.9 L548.3,544.8 L550.3,547.7 L552.2,550.5 L554.1,553.3 L555.8,556.0 L557.5,558.7 L559.1,561.4 L560.6,564.1 L562.0,566.7 L563.3,569.3 L564.5,571.8 L565.7,574.4 L566.8,576.9 L567.9,579.5 L568.9,582.0 L569.8,584.5 L570.7,587.0 L571.6,589.5 L572.4,591.8 L573.2,594.1 L573.9,596.4 L574.5,598.6 L575.1,600.7 L575.6,602.9 L576.0,605.1 L576.4,607.3 L576.8,609.6 L577.0,611.9 L577.2,614.3 L577.3,616.7 L577.3,619.2 L577.3,621.7 L577.3,624.4 L577.2,627.1 L577.1,629.8 L576.9,632.7 L576.8,635.7 L576.7,638.5 L576.5,641.5 L576.3,644.5 L576.0,647.5 L575.7,650.6 L575.4,653.8 L575.1,657.1 L574.8,660.4 L574.5,663.7 L574.1,667.2 L573.8,670.6 L573.5,674.1 L573.1,677.7 L572.7,681.3 L572.3,685.0 L571.9,688.8 L571.5,692.6 L571.1,696.4 L570.7,700.2 L570.3,704.1 L570.0,708.0 L569.5,711.9 L569.1,715.9 L568.6,720.1 L568.2,724.2 L567.8,728.4 L567.4,732.6 L567.1,736.7 L566.9,740.8 L566.8,744.9 L566.8,748.7 L566.8,752.6 L566.9,756.5 L567.0,760.3 L567.3,764.1 L567.5,767.8 L567.9,771.4 L568.3,774.9 L568.9,778.3 L569.5,781.5 L570.3,784.5 L571.1,787.4 L572.1,790.1 L573.1,792.7 L574.3,795.2 L575.5,797.6 L576.9,799.8 L578.3,801.9 L579.9,803.8 L581.6,805.6 L583.6,807.4 L585.6,808.9 L587.8,810.3 L590.1,811.4 L592.4,812.3 L594.8,813.0 L597.2,813.4 L599.6,813.7 L602.1,813.7 L604.5,813.5 L607.0,813.1 L609.4,812.5 L611.8,811.7 L614.1,810.7 L616.4,809.6 L618.6,808.2 L620.8,806.7 L622.9,805.1 L624.9,803.2 L626.8,801.1 L628.5,799.0 L630.0,796.7 L631.3,794.3 L632.5,791.9 L633.7,789.3 L634.7,786.7 L635.6,784.1 L636.4,781.3 L637.1,778.6 L637.7,775.8 L638.3,772.9 L638.7,770.0 L639.0,767.1 L639.2,764.2 L639.3,761.3 L639.4,758.3 L639.5,755.2 L639.5,752.0 L639.5,748.6 L639.5,745.0 L639.5,741.1 L639.5,737.0 L639.5,732.6 L639.4,728.0 L639.3,723.3 L639.2,718.5 L639.0,713.6 L638.8,708.8 L638.5,704.0 L638.2,699.3 L637.8,694.7 L637.3,690.1 L636.8,685.5 L636.2,680.9 L635.6,676.3 L635.0,671.7 L634.3,667.2 L633.7,662.7 L633.0,658.2 L632.3,653.7 L631.6,649.1 L630.8,644.5 L629.9,640.0 L629.1,635.6 L628.2,631.1 L627.4,626.7 L626.5,622.3 L625.7,617.8 L625.0,613.3 L624.3,608.7 L623.6,603.9 L622.9,599.1 L622.2,594.2 L621.5,589.2 L620.9,584.2 L620.3,579.2 L619.7,574.2 L619.2,569.2 L618.7,564.2 L618.3,559.3 L617.9,554.4 L617.5,549.4 L617.2,544.5 L616.9,539.6 L616.7,534.6 L616.5,529.7 L616.3,524.7 L616.2,519.8 L616.1,514.9 L616.0,509.9 L616.0,504.9 L616.0,499.9 L616.0,494.9 L616.0,489.9 L616.1,484.9 L616.2,479.9 L616.4,475.0 L616.7,470.2 L617.0,465.4 L617.3,460.8 L617.8,456.2 L618.3,451.5 L618.9,446.9 L619.5,442.4 L620.2,437.9 L620.9,433.5 L621.7,429.2 L622.5,425.1 L623.4,421.0 L624.3,417.1 L625.3,413.4 L626.4,409.8 L627.6,406.3 L628.8,402.8 L630.1,399.4 L631.4,396.1 L632.8,392.8 L634.1,389.5 L635.4,386.3 L636.7,383.1 L637.9,380.1 L639.0,377.2 L640.1,374.4 L641.2,371.7 L642.3,369.1 L643.3,366.7 L644.4,364.4 L645.4,362.2 L646.5,360.1 L647.6,358.1 L648.8,356.2 L650.0,354.3 L651.2,352.6 L652.4,350.9 L653.7,349.3 L655.0,347.8 L656.3,346.3 L657.7,344.8 L659.2,343.4 L660.7,342.0 L662.3,340.6 L663.9,339.3 L665.5,338.0 L667.2,336.7 L668.9,335.5 L670.7,334.4 L672.5,333.3 L674.4,332.2 L676.3,331.2 L678.3,330.3 L680.2,329.4 L682.3,328.6 L684.5,327.8 L686.8,327.0 L689.1,326.3 L691.4,325.6 L693.8,325.0 L696.2,324.5 L698.5,324.0 L700.8,323.5 L703.1,323.1 L705.3,322.8 L707.5,322.5 L709.7,322.3 L711.9,322.2 L714.1,322.1 L716.4,322.0 L718.7,322.0 L721.1,322.0 L723.6,322.0 L726.0,322.2 L728.6,322.4 L731.2,322.6 L733.9,323.0 L736.7,323.3 L739.6,323.7 L742.6,324.2 L745.6,324.6 L748.8,324.9 L752.0,325.3 L755.1,325.6 L758.3,325.9 L761.6,326.2 L764.9,326.5 L768.2,326.8 L771.6,327.1 L775.0,327.4 L778.3,327.6 L781.7,327.9 L785.0,328.1 L788.3,328.3 L791.6,328.6 L795.1,328.9 L798.5,329.1 L802.0,329.3 L805.4,329.6 L808.9,329.7 L812.2,329.8 L815.6,329.8 L818.8,329.7 L821.9,329.5 L824.8,329.2 L827.7,328.9 L830.5,328.5 L833.3,328.0 L835.9,327.5 L838.5,326.9 L840.9,326.3 L843.3,325.6 L845.6,324.9 L847.9,324.1 L850.1,323.2 L852.2,322.2 L854.2,321.2 L856.1,320.2 L857.9,319.1 L859.7,318.0 L861.3,316.8 L862.9,315.6 L864.5,314.4 L866.0,313.1 L867.6,311.7 L869.1,310.3 L870.5,308.8 L871.9,307.3 L873.3,305.7 L874.6,304.1 L875.8,302.4 L876.9,300.6 L878.0,298.8 L878.9,296.9 L879.8,294.9 L880.6,293.0 L881.3,291.0 L881.9,289.0 L882.4,287.1 L882.8,285.1 L883.2,283.2 L883.5,281.3 L883.7,279.4 L884.0,277.5 L884.1,275.6 L884.2,273.7 L884.3,271.7 L884.2,269.8 L884.1,267.8 L883.9,265.8 L883.7,263.9 L883.3,261.9 L882.9,259.9 L882.3,258.0 L881.7,256.1 L881.0,254.2 L880.3,252.3 L879.4,250.5 L878.5,248.6 L877.5,246.8 L876.4,245.1 L875.2,243.4 L874.0,241.7 L872.7,240.2 L871.4,238.8 L870.0,237.3 L868.5,236.0 L866.9,234.6 L865.2,233.4 L863.5,232.2 L861.6,231.1 L859.7,230.1 L857.6,229.1 L855.4,228.3 L853.1,227.6 L850.8,227.0 L848.5,226.5 L846.1,226.1 L843.8,225.8 L841.5,225.5 L839.3,225.3 L837.1,225.2 L835.1,225.1 L833.0,225.1 L830.9,225.1 L828.9,225.3 L827.0,225.5 L825.1,225.7 L823.3,226.0 L821.5,226.4 L819.8,226.7 L818.1,227.1 L816.4,227.5 L814.5,228.0 L812.7,228.5 L810.9,229.1 L809.1,229.7 L807.3,230.3 L805.6,230.9 L803.8,231.6 L802.1,232.2 L800.5,232.9 L798.8,233.6 L797.1,234.3 L795.4,235.0 L793.6,235.8 L791.9,236.5 L790.2,237.3 L788.6,238.1 L786.9,238.8 L785.2,239.6 L783.6,240.4 L781.9,241.2 L780.2,242.0 L778.5,242.8 L776.8,243.7 L775.1,244.5 L773.5,245.4 L771.9,246.2 L770.3,247.0 L768.7,247.8 L767.2,248.5 L765.7,249.2 L764.1,249.9 L762.4,250.6 L760.8,251.3 L759.3,252.0 L757.7,252.7 L756.2,253.3 L754.7,253.9 L753.2,254.4 L751.7,254.9 L750.3,255.4 L748.9,255.8 L747.4,256.2 L746.0,256.5 L744.6,256.8 L743.2,257.1 L741.8,257.4 L740.3,257.7 L738.7,257.9 L737.0,258.1 L735.3,258.4 L733.4,258.6 L731.5,258.9 L729.6,259.2 L727.7,259.4 L725.7,259.6 L723.8,259.8 L721.9,259.9 L719.9,260.0 L718.0,260.0 L716.0,260.0 L713.9,259.9 L711.7,259.8 L709.6,259.7 L707.4,259.5 L705.2,259.2 L702.9,258.9 L700.6,258.6 L698.2,258.1 L695.7,257.6 L693.1,257.0 L690.4,256.4 L687.5,255.5 L684.5,254.6 L681.3,253.5 L678.0,252.4 L674.6,251.2 L671.2,250.0 L667.7,248.9 L664.2,247.7 L660.8,246.7 L657.4,245.7 L654.0,244.8 L650.7,243.9 L647.4,243.0 L644.1,242.2 L640.8,241.3 L637.6,240.5 L634.3,239.6 L631.1,238.7 L627.9,237.8 L624.9,236.9 L621.7,235.8 L618.5,234.7 L615.3,233.5 L611.9,232.3 L608.6,231.1 L605.1,230.0 L601.6,228.9 L598.1,227.9 L594.4,227.1 L590.9,226.4 L587.4,225.8 L583.9,225.3 L580.4,224.9 L576.9,224.6 L573.4,224.3 L570.0,224.2 L566.5,224.1 L563.1,224.1 L559.7,224.2 L556.4,224.3 L553.1,224.6 L549.8,225.0 L546.5,225.4 L543.3,225.9 L540.1,226.5 L536.9,227.2 L533.8,228.0 L530.7,228.9 L527.6,229.9 L524.5,231.0 L521.5,232.1 L518.5,233.4 L515.6,234.8 L512.7,236.2 L509.9,237.6 L507.1,239.2 L504.4,240.7 L501.7,242.3 L499.0,243.9 L496.2,245.6 L493.5,247.5 L490.8,249.3 L488.1,251.2 L485.4,253.2 L482.8,255.1 L480.3,257.1 L477.8,259.0 L475.4,261.0 L473.1,262.8 L470.7,264.9 L468.3,267.0 L465.9,269.2 L463.5,271.3 L461.3,273.5 L459.2,275.5 L457.2,277.3 L455.5,279.0 L454.1,280.3 L453.1,281.3 L451.8,282.9 L450.9,284.7 L450.6,286.7 L450.8,288.7 L451.5,290.6 L452.6,292.2 L454.2,293.5 L456.0,294.4 L458.0,294.7 L460.0,294.5 L461.9,293.8Z" fill="#5fcdf6"/></g>
<!-- label line -->
<line x1="461.5" y1="146" x2="520" y2="243.5" stroke="#0a0a0a" stroke-width="3.6"/>
<!-- dashed arrow -->
<line x1="596.8" y1="844" x2="592" y2="1128" stroke="#000" stroke-width="25" stroke-dasharray="16.4,17"/>
<polygon points="551.5,1116 591.5,1140 631.5,1117.5 590.5,1215" fill="#000"/>
<!-- text -->
<text x="234" y="133.5" font-size="58.5">Inhibitor-3</text>
<text transform="translate(681.7 229) scale(1 1.04)" font-size="58.5">PP</text>
<path d="M783.4,187 L776.4,187 C774.6,192 770,196.6 764,198.8 L764,206.4 C768.2,205 772,202.6 774.9,199.6 L774.9,229 L783.4,229 Z" fill="#0a0a0a"/>
<text transform="translate(388.3 743.8) scale(1 1.03)" font-size="58.5">p97</text>
</svg>
</body></html>
